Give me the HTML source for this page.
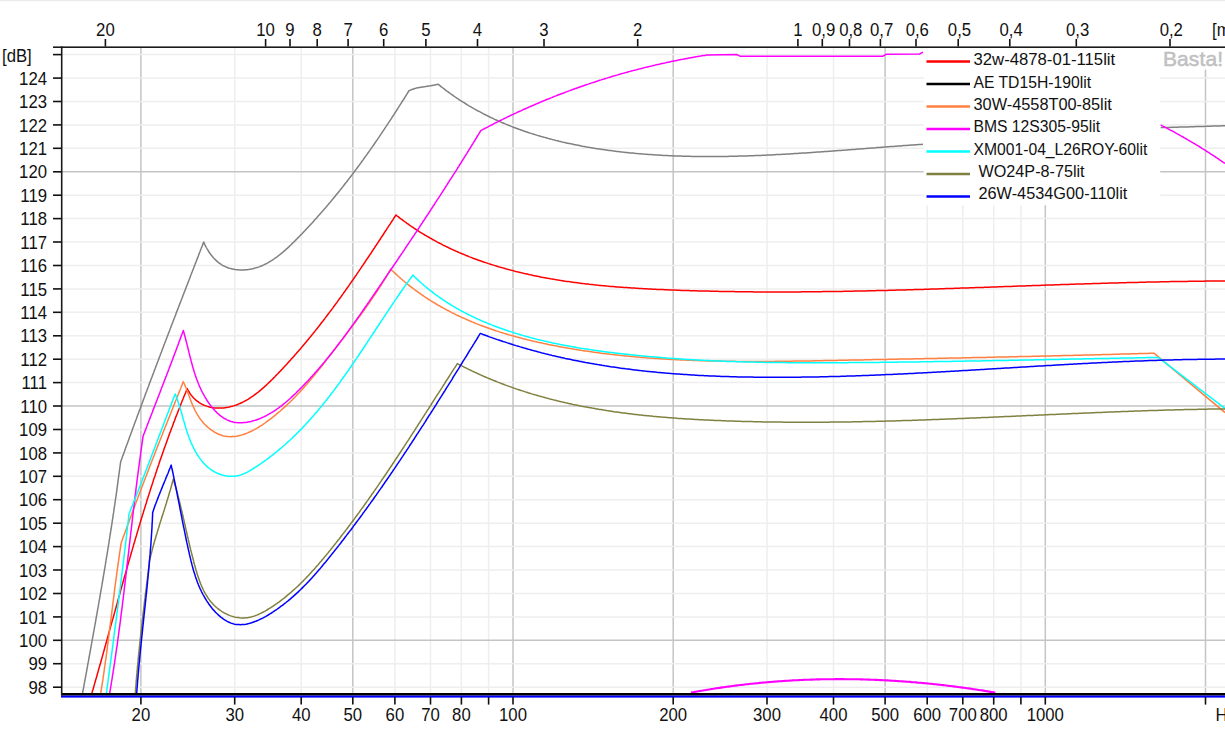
<!DOCTYPE html>
<html><head><meta charset="utf-8"><title>SPL chart</title>
<style>
html,body{margin:0;padding:0;background:#fff;overflow:hidden;}
svg{display:block;}
.ax{font-family:"Liberation Sans",Arial,sans-serif;font-size:18px;fill:#111;}
.lg{font-family:"Liberation Sans",Arial,sans-serif;font-size:16px;fill:#111;}
.basta{font-family:"Liberation Sans",Arial,sans-serif;font-size:21px;font-weight:normal;fill:#c0c0c0;stroke:#c0c0c0;stroke-width:0.5px;}
</style></head>
<body>
<svg width="1225" height="742" viewBox="0 0 1225 742">
<rect x="0" y="0" width="1225" height="742" fill="#fff"/>
<rect x="0" y="0" width="1225" height="1.2" fill="#ebebeb"/>
<line x1="234.7" y1="47.0" x2="234.7" y2="694.0" stroke="#eeeeee" stroke-width="1.5"/>
<line x1="301.2" y1="47.0" x2="301.2" y2="694.0" stroke="#eeeeee" stroke-width="1.5"/>
<line x1="394.9" y1="47.0" x2="394.9" y2="694.0" stroke="#eeeeee" stroke-width="1.5"/>
<line x1="430.5" y1="47.0" x2="430.5" y2="694.0" stroke="#eeeeee" stroke-width="1.5"/>
<line x1="461.4" y1="47.0" x2="461.4" y2="694.0" stroke="#eeeeee" stroke-width="1.5"/>
<line x1="488.6" y1="47.0" x2="488.6" y2="694.0" stroke="#eeeeee" stroke-width="1.5"/>
<line x1="767.0" y1="47.0" x2="767.0" y2="694.0" stroke="#eeeeee" stroke-width="1.5"/>
<line x1="833.5" y1="47.0" x2="833.5" y2="694.0" stroke="#eeeeee" stroke-width="1.5"/>
<line x1="927.2" y1="47.0" x2="927.2" y2="694.0" stroke="#eeeeee" stroke-width="1.5"/>
<line x1="962.8" y1="47.0" x2="962.8" y2="694.0" stroke="#eeeeee" stroke-width="1.5"/>
<line x1="993.7" y1="47.0" x2="993.7" y2="694.0" stroke="#eeeeee" stroke-width="1.5"/>
<line x1="1020.9" y1="47.0" x2="1020.9" y2="694.0" stroke="#eeeeee" stroke-width="1.5"/>
<line x1="140.9" y1="47.0" x2="140.9" y2="694.0" stroke="#c4c4c4" stroke-width="1.5"/>
<line x1="352.8" y1="47.0" x2="352.8" y2="694.0" stroke="#c4c4c4" stroke-width="1.5"/>
<line x1="513.0" y1="47.0" x2="513.0" y2="694.0" stroke="#c4c4c4" stroke-width="1.5"/>
<line x1="673.2" y1="47.0" x2="673.2" y2="694.0" stroke="#c4c4c4" stroke-width="1.5"/>
<line x1="885.1" y1="47.0" x2="885.1" y2="694.0" stroke="#c4c4c4" stroke-width="1.5"/>
<line x1="1045.3" y1="47.0" x2="1045.3" y2="694.0" stroke="#c4c4c4" stroke-width="1.5"/>
<line x1="1205.5" y1="47.0" x2="1205.5" y2="694.0" stroke="#c4c4c4" stroke-width="1.5"/>
<line x1="62.0" y1="687.2" x2="1225.0" y2="687.2" stroke="#eeeeee" stroke-width="1.5"/>
<line x1="62.0" y1="663.7" x2="1225.0" y2="663.7" stroke="#eeeeee" stroke-width="1.5"/>
<line x1="62.0" y1="640.3" x2="1225.0" y2="640.3" stroke="#c4c4c4" stroke-width="1.5"/>
<line x1="62.0" y1="616.9" x2="1225.0" y2="616.9" stroke="#eeeeee" stroke-width="1.5"/>
<line x1="62.0" y1="593.5" x2="1225.0" y2="593.5" stroke="#eeeeee" stroke-width="1.5"/>
<line x1="62.0" y1="570.0" x2="1225.0" y2="570.0" stroke="#eeeeee" stroke-width="1.5"/>
<line x1="62.0" y1="546.6" x2="1225.0" y2="546.6" stroke="#eeeeee" stroke-width="1.5"/>
<line x1="62.0" y1="523.2" x2="1225.0" y2="523.2" stroke="#eeeeee" stroke-width="1.5"/>
<line x1="62.0" y1="499.7" x2="1225.0" y2="499.7" stroke="#eeeeee" stroke-width="1.5"/>
<line x1="62.0" y1="476.3" x2="1225.0" y2="476.3" stroke="#eeeeee" stroke-width="1.5"/>
<line x1="62.0" y1="452.9" x2="1225.0" y2="452.9" stroke="#eeeeee" stroke-width="1.5"/>
<line x1="62.0" y1="429.5" x2="1225.0" y2="429.5" stroke="#eeeeee" stroke-width="1.5"/>
<line x1="62.0" y1="406.0" x2="1225.0" y2="406.0" stroke="#c4c4c4" stroke-width="1.5"/>
<line x1="62.0" y1="382.6" x2="1225.0" y2="382.6" stroke="#eeeeee" stroke-width="1.5"/>
<line x1="62.0" y1="359.2" x2="1225.0" y2="359.2" stroke="#eeeeee" stroke-width="1.5"/>
<line x1="62.0" y1="335.8" x2="1225.0" y2="335.8" stroke="#eeeeee" stroke-width="1.5"/>
<line x1="62.0" y1="312.3" x2="1225.0" y2="312.3" stroke="#eeeeee" stroke-width="1.5"/>
<line x1="62.0" y1="288.9" x2="1225.0" y2="288.9" stroke="#eeeeee" stroke-width="1.5"/>
<line x1="62.0" y1="265.5" x2="1225.0" y2="265.5" stroke="#eeeeee" stroke-width="1.5"/>
<line x1="62.0" y1="242.0" x2="1225.0" y2="242.0" stroke="#eeeeee" stroke-width="1.5"/>
<line x1="62.0" y1="218.6" x2="1225.0" y2="218.6" stroke="#eeeeee" stroke-width="1.5"/>
<line x1="62.0" y1="195.2" x2="1225.0" y2="195.2" stroke="#eeeeee" stroke-width="1.5"/>
<line x1="62.0" y1="171.8" x2="1225.0" y2="171.8" stroke="#c4c4c4" stroke-width="1.5"/>
<line x1="62.0" y1="148.3" x2="1225.0" y2="148.3" stroke="#eeeeee" stroke-width="1.5"/>
<line x1="62.0" y1="124.9" x2="1225.0" y2="124.9" stroke="#eeeeee" stroke-width="1.5"/>
<line x1="62.0" y1="101.5" x2="1225.0" y2="101.5" stroke="#eeeeee" stroke-width="1.5"/>
<line x1="62.0" y1="78.1" x2="1225.0" y2="78.1" stroke="#eeeeee" stroke-width="1.5"/>
<line x1="62.0" y1="54.6" x2="1225.0" y2="54.6" stroke="#eeeeee" stroke-width="1.5"/>
<path d="M82.5,693.5 L82.8,692.0 L83.0,690.5 L83.3,689.1 L83.6,687.6 L83.9,686.1 L84.1,684.6 L84.4,683.1 L84.7,681.7 L84.9,680.2 L85.2,678.7 L85.5,677.2 L85.8,675.7 L86.0,674.3 L86.3,672.8 L86.6,671.3 L86.8,669.8 L87.1,668.3 L87.4,666.9 L87.6,665.4 L87.9,663.9 L88.2,662.4 L88.5,660.9 L88.7,659.5 L89.0,658.0 L89.3,656.5 L89.5,655.0 L89.8,653.6 L90.1,652.1 L90.3,650.6 L90.6,649.1 L90.9,647.6 L91.1,646.1 L91.4,644.7 L91.7,643.2 L91.9,641.7 L92.2,640.2 L92.5,638.7 L92.7,637.3 L93.0,635.8 L93.3,634.3 L93.5,632.8 L93.8,631.3 L94.1,629.9 L94.3,628.4 L94.6,626.9 L94.9,625.4 L95.1,623.9 L95.4,622.5 L95.7,621.0 L95.9,619.5 L96.2,618.0 L96.4,616.5 L96.7,615.1 L97.0,613.6 L97.2,612.1 L97.5,610.6 L97.7,609.1 L98.0,607.6 L98.3,606.2 L98.5,604.7 L98.8,603.2 L99.0,601.7 L99.3,600.2 L99.6,598.8 L99.8,597.3 L100.1,595.8 L100.3,594.3 L100.6,592.8 L100.8,591.3 L101.1,589.9 L101.4,588.4 L101.6,586.9 L101.9,585.4 L102.1,583.9 L102.4,582.5 L102.6,581.0 L102.9,579.5 L103.1,578.0 L103.4,576.5 L103.6,575.0 L103.9,573.6 L104.1,572.1 L104.4,570.6 L104.6,569.1 L104.9,567.6 L105.1,566.1 L105.4,564.7 L105.6,563.2 L105.8,561.7 L106.1,560.2 L106.3,558.7 L106.6,557.2 L106.8,555.7 L107.1,554.3 L107.3,552.8 L107.5,551.3 L107.8,549.8 L108.0,548.3 L108.3,546.8 L108.5,545.4 L108.7,543.9 L109.0,542.4 L109.2,540.9 L109.4,539.4 L109.7,537.9 L109.9,536.4 L110.1,535.0 L110.4,533.5 L110.6,532.0 L110.8,530.5 L111.1,529.0 L111.3,527.5 L111.5,526.0 L111.8,524.6 L112.0,523.1 L112.2,521.6 L112.4,520.1 L112.7,518.6 L112.9,517.1 L113.1,515.6 L113.3,514.1 L113.6,512.7 L113.8,511.2 L114.0,509.7 L114.2,508.2 L114.4,506.7 L114.7,505.2 L114.9,503.7 L115.1,502.2 L115.3,500.7 L115.5,499.3 L115.7,497.8 L116.0,496.3 L116.2,494.8 L116.4,493.3 L116.6,491.8 L116.8,490.3 L117.0,488.8 L117.2,487.3 L117.4,485.9 L117.6,484.4 L117.8,482.9 L118.0,481.4 L118.2,479.9 L118.4,478.4 L118.6,476.9 L118.8,475.4 L119.0,473.9 L119.2,472.4 L119.4,471.0 L119.6,469.5 L119.8,468.0 L120.0,466.5 L120.2,465.0 L120.4,463.5 L120.6,462.0 L121.1,460.6 L121.6,459.2 L122.1,457.8 L122.6,456.3 L123.2,454.9 L123.7,453.5 L124.2,452.1 L124.7,450.7 L125.2,449.3 L125.7,447.8 L126.2,446.4 L126.7,445.0 L127.3,443.6 L127.8,442.2 L128.3,440.8 L128.8,439.4 L129.3,437.9 L129.8,436.5 L130.4,435.1 L130.9,433.7 L131.4,432.3 L131.9,430.9 L132.4,429.5 L132.9,428.0 L133.5,426.6 L134.0,425.2 L134.5,423.8 L135.0,422.4 L135.5,421.0 L136.1,419.6 L136.6,418.2 L137.1,416.7 L137.6,415.3 L138.2,413.9 L138.7,412.5 L139.2,411.1 L139.7,409.7 L140.3,408.3 L140.8,406.9 L141.3,405.4 L141.8,404.0 L142.4,402.6 L142.9,401.2 L143.4,399.8 L143.9,398.4 L144.5,397.0 L145.0,395.6 L145.5,394.1 L146.0,392.7 L146.6,391.3 L147.1,389.9 L147.6,388.5 L148.2,387.1 L148.7,385.7 L149.2,384.3 L149.7,382.8 L150.3,381.4 L150.8,380.0 L151.3,378.6 L151.9,377.2 L152.4,375.8 L152.9,374.4 L153.5,373.0 L154.0,371.6 L154.5,370.1 L155.1,368.7 L155.6,367.3 L156.1,365.9 L156.7,364.5 L157.2,363.1 L157.7,361.7 L158.3,360.3 L158.8,358.9 L159.3,357.4 L159.9,356.0 L160.4,354.6 L160.9,353.2 L161.5,351.8 L162.0,350.4 L162.5,349.0 L163.1,347.6 L163.6,346.2 L164.1,344.8 L164.7,343.3 L165.2,341.9 L165.8,340.5 L166.3,339.1 L166.8,337.7 L167.4,336.3 L167.9,334.9 L168.4,333.5 L169.0,332.1 L169.5,330.7 L170.1,329.2 L170.6,327.8 L171.1,326.4 L171.7,325.0 L172.2,323.6 L172.8,322.2 L173.3,320.8 L173.8,319.4 L174.4,318.0 L174.9,316.6 L175.5,315.2 L176.0,313.7 L176.5,312.3 L177.1,310.9 L177.6,309.5 L178.2,308.1 L178.7,306.7 L179.2,305.3 L179.8,303.9 L180.3,302.5 L180.9,301.1 L181.4,299.7 L182.0,298.3 L182.5,296.9 L183.0,295.4 L183.6,294.0 L184.1,292.6 L184.7,291.2 L185.2,289.8 L185.8,288.4 L186.3,287.0 L186.8,285.6 L187.4,284.2 L187.9,282.8 L188.5,281.4 L189.0,280.0 L189.6,278.6 L190.1,277.2 L190.6,275.7 L191.2,274.3 L191.7,272.9 L192.3,271.5 L192.8,270.1 L193.4,268.7 L193.9,267.3 L194.4,265.9 L195.0,264.5 L195.5,263.1 L196.1,261.7 L196.6,260.3 L197.2,258.9 L197.7,257.5 L198.3,256.1 L198.8,254.6 L199.3,253.2 L199.9,251.8 L200.4,250.4 L201.0,249.0 L201.5,247.6 L202.1,246.2 L202.6,244.8 L203.2,243.4 L203.7,242.0 L204.3,243.4 L204.9,244.8 L205.6,246.2 L206.3,247.5 L207.1,248.9 L207.9,250.2 L208.7,251.5 L209.5,252.8 L210.4,254.1 L211.4,255.3 L212.4,256.5 L213.4,257.7 L214.4,258.8 L215.5,259.9 L216.6,260.9 L217.7,261.9 L218.9,262.9 L220.1,263.7 L221.4,264.6 L222.6,265.3 L224.0,266.0 L225.3,266.6 L226.7,267.2 L228.0,267.7 L229.4,268.2 L230.9,268.6 L232.3,268.9 L233.8,269.2 L235.2,269.5 L236.7,269.7 L238.2,269.8 L239.7,269.9 L241.2,270.0 L242.7,270.0 L244.1,269.9 L245.6,269.8 L247.1,269.7 L248.6,269.5 L250.0,269.3 L251.5,269.0 L252.9,268.7 L254.3,268.3 L255.7,267.9 L257.1,267.5 L258.4,267.1 L259.8,266.6 L261.1,266.0 L262.5,265.5 L263.8,264.9 L265.1,264.2 L266.4,263.6 L267.7,262.9 L268.9,262.2 L270.2,261.4 L271.5,260.7 L272.7,259.9 L273.9,259.0 L275.1,258.2 L276.4,257.3 L277.6,256.4 L278.7,255.5 L279.9,254.6 L281.1,253.7 L282.3,252.7 L283.4,251.7 L284.6,250.7 L285.7,249.7 L286.9,248.7 L288.0,247.6 L289.1,246.6 L290.2,245.5 L291.3,244.5 L292.4,243.4 L293.5,242.3 L294.6,241.2 L295.7,240.1 L296.8,239.0 L297.9,237.9 L299.0,236.8 L300.0,235.7 L301.1,234.6 L302.2,233.5 L303.2,232.4 L304.3,231.3 L305.3,230.2 L306.4,229.1 L307.4,228.0 L308.5,226.8 L309.5,225.7 L310.5,224.6 L311.6,223.5 L312.6,222.4 L313.6,221.2 L314.6,220.1 L315.6,219.0 L316.6,217.9 L317.6,216.7 L318.6,215.6 L319.6,214.5 L320.6,213.3 L321.6,212.2 L322.6,211.1 L323.6,209.9 L324.6,208.8 L325.6,207.7 L326.6,206.5 L327.5,205.4 L328.5,204.2 L329.5,203.1 L330.4,201.9 L331.4,200.8 L332.3,199.6 L333.3,198.5 L334.2,197.3 L335.2,196.2 L336.1,195.0 L337.1,193.8 L338.0,192.7 L339.0,191.5 L339.9,190.4 L340.8,189.2 L341.8,188.0 L342.7,186.9 L343.6,185.7 L344.5,184.5 L345.4,183.3 L346.4,182.2 L347.3,181.0 L348.2,179.8 L349.1,178.6 L350.0,177.5 L350.9,176.3 L351.8,175.1 L352.7,173.9 L353.6,172.7 L354.5,171.5 L355.4,170.3 L356.3,169.1 L357.1,168.0 L358.0,166.8 L358.9,165.6 L359.8,164.4 L360.7,163.2 L361.5,162.0 L362.4,160.8 L363.3,159.6 L364.2,158.3 L365.0,157.1 L365.9,155.9 L366.8,154.7 L367.6,153.5 L368.5,152.3 L369.3,151.1 L370.2,149.9 L371.1,148.6 L371.9,147.4 L372.8,146.2 L373.6,145.0 L374.5,143.7 L375.3,142.5 L376.1,141.3 L377.0,140.1 L377.8,138.8 L378.7,137.6 L379.5,136.3 L380.3,135.1 L381.2,133.9 L382.0,132.6 L382.8,131.4 L383.7,130.1 L384.5,128.9 L385.3,127.6 L386.2,126.4 L387.0,125.1 L387.8,123.9 L388.6,122.6 L389.5,121.4 L390.3,120.1 L391.1,118.9 L391.9,117.6 L392.8,116.3 L393.6,115.1 L394.4,113.8 L395.2,112.5 L396.0,111.3 L396.8,110.0 L397.7,108.7 L398.5,107.4 L399.3,106.2 L400.1,104.9 L400.9,103.6 L401.7,102.3 L402.5,101.0 L403.3,99.8 L404.2,98.5 L405.0,97.2 L405.8,95.9 L406.6,94.6 L407.4,93.3 L408.2,92.0 L409.0,90.7 L410.4,90.1 L411.9,89.5 L413.4,89.0 L414.9,88.5 L416.4,88.1 L418.0,87.8 L419.5,87.5 L421.0,87.2 L422.6,86.9 L424.2,86.7 L425.7,86.5 L427.3,86.2 L428.8,86.0 L430.4,85.8 L432.0,85.5 L433.5,85.2 L435.0,84.9 L436.6,84.6 L438.1,84.2 L439.3,85.2 L440.5,86.1 L441.7,87.1 L442.9,88.0 L444.1,88.9 L445.3,89.9 L446.5,90.8 L447.8,91.7 L449.0,92.6 L450.2,93.5 L451.4,94.4 L452.7,95.2 L453.9,96.1 L455.2,97.0 L456.4,97.8 L457.7,98.7 L458.9,99.5 L460.2,100.3 L461.5,101.1 L462.7,101.9 L464.0,102.7 L465.3,103.5 L466.6,104.3 L467.8,105.1 L469.1,105.9 L470.4,106.6 L471.7,107.4 L473.0,108.1 L474.3,108.9 L475.6,109.6 L476.9,110.3 L478.2,111.0 L479.6,111.7 L480.9,112.4 L482.2,113.1 L483.5,113.8 L484.9,114.5 L486.2,115.2 L487.5,115.8 L488.9,116.5 L490.2,117.2 L491.5,117.8 L492.9,118.4 L494.2,119.1 L495.6,119.7 L496.9,120.3 L498.3,120.9 L499.7,121.5 L501.0,122.1 L502.4,122.7 L503.8,123.3 L505.1,123.9 L506.5,124.4 L507.9,125.0 L509.3,125.5 L510.7,126.1 L512.0,126.6 L513.4,127.2 L514.8,127.7 L516.2,128.2 L517.6,128.7 L519.0,129.3 L520.4,129.8 L521.8,130.3 L523.2,130.8 L524.6,131.2 L526.0,131.7 L527.5,132.2 L528.9,132.7 L530.3,133.1 L531.7,133.6 L533.1,134.0 L534.6,134.5 L536.0,134.9 L537.4,135.4 L538.8,135.8 L540.3,136.2 L541.7,136.6 L543.1,137.0 L544.6,137.4 L546.0,137.8 L547.5,138.2 L548.9,138.6 L550.3,139.0 L551.8,139.4 L553.2,139.8 L554.7,140.1 L556.1,140.5 L557.6,140.8 L559.0,141.2 L560.5,141.5 L562.0,141.9 L563.4,142.2 L564.9,142.6 L566.3,142.9 L567.8,143.2 L569.3,143.5 L570.7,143.8 L572.2,144.1 L573.7,144.4 L575.1,144.7 L576.6,145.0 L578.1,145.3 L579.6,145.6 L581.0,145.9 L582.5,146.2 L584.0,146.4 L585.5,146.7 L586.9,147.0 L588.4,147.2 L589.9,147.5 L591.4,147.7 L592.9,148.0 L594.3,148.2 L595.8,148.5 L597.3,148.7 L598.8,148.9 L600.3,149.1 L601.8,149.4 L603.3,149.6 L604.7,149.8 L606.2,150.0 L607.7,150.2 L609.2,150.4 L610.7,150.6 L612.2,150.8 L613.7,151.0 L615.2,151.2 L616.7,151.4 L618.2,151.5 L619.6,151.7 L621.1,151.9 L622.6,152.1 L624.1,152.2 L625.6,152.4 L627.1,152.5 L628.6,152.7 L630.1,152.9 L631.6,153.0 L633.1,153.1 L634.6,153.3 L636.1,153.4 L637.6,153.6 L639.1,153.7 L640.6,153.8 L642.1,153.9 L643.6,154.1 L645.1,154.2 L646.6,154.3 L648.1,154.4 L649.6,154.5 L651.1,154.6 L652.6,154.7 L654.1,154.8 L655.6,154.9 L657.1,155.0 L658.6,155.1 L660.1,155.2 L661.6,155.3 L663.1,155.4 L664.6,155.4 L666.1,155.5 L667.6,155.6 L669.1,155.7 L670.6,155.7 L672.1,155.8 L673.6,155.9 L675.1,155.9 L676.6,156.0 L678.2,156.0 L679.7,156.1 L681.2,156.1 L682.7,156.2 L684.2,156.2 L685.7,156.2 L687.2,156.3 L688.7,156.3 L690.2,156.3 L691.7,156.4 L693.2,156.4 L694.7,156.4 L696.2,156.4 L697.8,156.5 L699.3,156.5 L700.8,156.5 L702.3,156.5 L703.8,156.5 L705.3,156.5 L706.8,156.5 L708.3,156.5 L709.8,156.5 L711.3,156.5 L712.9,156.5 L714.4,156.5 L715.9,156.5 L717.4,156.5 L718.9,156.5 L720.4,156.5 L721.9,156.5 L723.4,156.4 L724.9,156.4 L726.5,156.4 L728.0,156.4 L729.5,156.3 L731.0,156.3 L732.5,156.3 L734.0,156.3 L735.5,156.2 L737.0,156.2 L738.5,156.1 L740.1,156.1 L741.6,156.1 L743.1,156.0 L744.6,156.0 L746.1,155.9 L747.6,155.9 L749.1,155.8 L750.6,155.8 L752.2,155.7 L753.7,155.7 L755.2,155.6 L756.7,155.5 L758.2,155.5 L759.7,155.4 L761.2,155.4 L762.7,155.3 L764.2,155.2 L765.8,155.2 L767.3,155.1 L768.8,155.0 L770.3,154.9 L771.8,154.9 L773.3,154.8 L774.8,154.7 L776.3,154.6 L777.8,154.6 L779.4,154.5 L780.9,154.4 L782.4,154.3 L783.9,154.2 L785.4,154.2 L786.9,154.1 L788.4,154.0 L789.9,153.9 L791.4,153.8 L792.9,153.7 L794.5,153.6 L796.0,153.5 L797.5,153.4 L799.0,153.3 L800.5,153.2 L802.0,153.1 L803.5,153.1 L805.0,153.0 L806.5,152.9 L808.0,152.8 L809.5,152.7 L811.0,152.6 L812.6,152.5 L814.1,152.3 L815.6,152.2 L817.1,152.1 L818.6,152.0 L820.1,151.9 L821.6,151.8 L823.1,151.7 L824.6,151.6 L826.1,151.5 L827.6,151.4 L829.1,151.3 L830.6,151.2 L832.1,151.1 L833.6,151.0 L835.1,150.8 L836.6,150.7 L838.1,150.6 L839.6,150.5 L841.1,150.4 L842.6,150.3 L844.1,150.2 L845.6,150.1 L847.1,149.9 L848.6,149.8 L850.1,149.7 L851.6,149.6 L853.1,149.5 L854.6,149.4 L856.1,149.2 L857.6,149.1 L859.1,149.0 L860.6,148.9 L862.1,148.8 L863.6,148.7 L865.1,148.6 L866.6,148.4 L868.1,148.3 L869.6,148.2 L871.1,148.1 L872.6,148.0 L874.1,147.9 L875.5,147.8 L877.0,147.6 L878.5,147.5 L880.0,147.4 L881.5,147.3 L883.0,147.2 L884.5,147.1 L886.0,147.0 L887.5,146.8 L888.9,146.7 L890.4,146.6 L891.9,146.5 L893.4,146.4 L894.9,146.3 L896.4,146.2 L897.9,146.1 L899.3,146.0 L900.8,145.9 L902.3,145.7 L903.8,145.6 L905.3,145.5 L906.8,145.4 L908.2,145.3 L909.7,145.2 L911.2,145.1 L912.7,145.0 L914.1,144.9 L915.6,144.8 L917.1,144.7 L918.6,144.6 L920.1,144.5 L921.5,144.4 L923.0,144.3" fill="none" stroke="#808080" stroke-width="1.5" stroke-linejoin="round" stroke-linecap="butt"/>
<path d="M1160.6,127.6 L1162.1,127.6 L1163.7,127.5 L1165.2,127.5 L1166.7,127.4 L1168.3,127.4 L1169.8,127.4 L1171.3,127.3 L1172.9,127.3 L1174.4,127.2 L1175.9,127.2 L1177.5,127.2 L1179.0,127.1 L1180.5,127.1 L1182.1,127.0 L1183.6,127.0 L1185.1,126.9 L1186.7,126.9 L1188.2,126.9 L1189.7,126.8 L1191.3,126.8 L1192.8,126.7 L1194.3,126.7 L1195.9,126.6 L1197.4,126.6 L1198.9,126.5 L1200.5,126.5 L1202.0,126.4 L1203.5,126.4 L1205.1,126.3 L1206.6,126.3 L1208.1,126.3 L1209.7,126.2 L1211.2,126.2 L1212.7,126.1 L1214.3,126.1 L1215.8,126.0 L1217.3,126.0 L1218.9,125.9 L1220.4,125.9 L1221.9,125.8 L1223.5,125.8 L1225.0,125.7" fill="none" stroke="#808080" stroke-width="1.5" stroke-linejoin="round" stroke-linecap="butt"/>
<path d="M91.8,693.5 L92.2,692.1 L92.6,690.6 L93.1,689.2 L93.5,687.7 L93.9,686.3 L94.3,684.9 L94.7,683.4 L95.1,682.0 L95.5,680.5 L96.0,679.1 L96.4,677.6 L96.8,676.2 L97.2,674.8 L97.6,673.3 L98.0,671.9 L98.4,670.4 L98.8,669.0 L99.2,667.5 L99.6,666.1 L100.1,664.6 L100.5,663.2 L100.9,661.8 L101.3,660.3 L101.7,658.9 L102.1,657.4 L102.5,656.0 L102.9,654.5 L103.3,653.1 L103.7,651.6 L104.1,650.2 L104.5,648.7 L104.9,647.3 L105.3,645.9 L105.7,644.4 L106.1,643.0 L106.5,641.5 L106.9,640.1 L107.3,638.6 L107.7,637.2 L108.1,635.7 L108.5,634.3 L108.9,632.8 L109.3,631.4 L109.7,629.9 L110.1,628.5 L110.5,627.0 L110.9,625.6 L111.3,624.1 L111.7,622.7 L112.1,621.2 L112.5,619.8 L113.0,618.4 L113.4,616.9 L113.8,615.5 L114.2,614.0 L114.6,612.6 L115.0,611.1 L115.4,609.7 L115.8,608.2 L116.2,606.8 L116.6,605.3 L117.0,603.9 L117.4,602.4 L117.8,601.0 L118.2,599.5 L118.6,598.1 L119.0,596.6 L119.4,595.2 L119.8,593.7 L120.2,592.3 L120.6,590.9 L121.0,589.4 L121.4,588.0 L121.8,586.5 L122.2,585.1 L122.6,583.6 L123.0,582.2 L123.4,580.7 L123.8,579.3 L124.2,577.8 L124.6,576.4 L125.0,574.9 L125.5,573.5 L125.9,572.0 L126.3,570.6 L126.7,569.2 L127.1,567.7 L127.5,566.3 L127.9,564.8 L128.3,563.4 L128.7,561.9 L129.1,560.5 L129.6,559.0 L130.0,557.6 L130.4,556.2 L130.8,554.7 L131.2,553.3 L131.6,551.8 L132.1,550.4 L132.5,548.9 L132.9,547.5 L133.3,546.1 L133.7,544.6 L134.1,543.2 L134.6,541.7 L135.0,540.3 L135.4,538.9 L135.8,537.4 L136.3,536.0 L136.7,534.5 L137.1,533.1 L137.5,531.7 L138.0,530.2 L138.4,528.8 L138.8,527.3 L139.2,525.9 L139.7,524.5 L140.1,523.0 L140.5,521.6 L141.0,520.1 L141.4,518.7 L141.8,517.3 L142.3,515.8 L142.7,514.4 L143.2,513.0 L143.6,511.5 L144.0,510.1 L144.5,508.7 L144.9,507.2 L145.4,505.8 L145.8,504.4 L146.3,502.9 L146.7,501.5 L147.1,500.1 L147.6,498.6 L148.0,497.2 L148.5,495.8 L149.0,494.3 L149.4,492.9 L149.9,491.5 L150.3,490.1 L150.8,488.6 L151.2,487.2 L151.7,485.8 L152.2,484.3 L152.6,482.9 L153.1,481.5 L153.5,480.1 L154.0,478.6 L154.5,477.2 L155.0,475.8 L155.4,474.4 L155.9,472.9 L156.4,471.5 L156.8,470.1 L157.3,468.7 L157.8,467.2 L158.3,465.8 L158.8,464.4 L159.2,463.0 L159.7,461.6 L160.2,460.1 L160.7,458.7 L161.2,457.3 L161.7,455.9 L162.2,454.5 L162.7,453.1 L163.2,451.6 L163.7,450.2 L164.1,448.8 L164.6,447.4 L165.2,446.0 L165.7,444.6 L166.2,443.2 L166.7,441.7 L167.2,440.3 L167.7,438.9 L168.2,437.5 L168.7,436.1 L169.2,434.7 L169.7,433.3 L170.3,431.9 L170.8,430.5 L171.3,429.1 L171.8,427.7 L172.4,426.3 L172.9,424.9 L173.4,423.5 L173.9,422.1 L174.5,420.7 L175.0,419.2 L175.5,417.8 L176.1,416.4 L176.6,415.0 L177.2,413.7 L177.7,412.3 L178.3,410.9 L178.8,409.5 L179.4,408.1 L179.9,406.7 L180.5,405.3 L181.0,403.9 L181.6,402.5 L182.1,401.1 L182.7,399.7 L183.3,398.3 L183.8,396.9 L184.4,395.5 L185.0,394.1 L185.6,392.8 L186.1,391.4 L186.7,390.0 L187.3,388.6 L188.0,390.1 L188.8,391.5 L189.6,392.8 L190.5,394.2 L191.4,395.4 L192.4,396.6 L193.4,397.8 L194.5,398.8 L195.6,399.9 L196.8,400.8 L198.0,401.7 L199.2,402.6 L200.5,403.4 L201.8,404.1 L203.1,404.8 L204.5,405.4 L205.9,405.9 L207.3,406.4 L208.7,406.8 L210.2,407.2 L211.6,407.5 L213.1,407.7 L214.6,407.9 L216.1,408.0 L217.6,408.1 L219.1,408.1 L220.5,408.1 L222.0,408.0 L223.5,407.9 L225.0,407.7 L226.4,407.5 L227.9,407.3 L229.3,407.0 L230.7,406.6 L232.1,406.3 L233.5,405.9 L234.9,405.4 L236.3,405.0 L237.6,404.5 L238.9,403.9 L240.3,403.3 L241.6,402.7 L242.9,402.1 L244.2,401.4 L245.5,400.8 L246.7,400.0 L248.0,399.3 L249.2,398.5 L250.5,397.7 L251.7,396.9 L252.9,396.1 L254.1,395.2 L255.3,394.3 L256.5,393.4 L257.7,392.5 L258.9,391.6 L260.0,390.6 L261.2,389.6 L262.3,388.6 L263.5,387.6 L264.6,386.6 L265.8,385.6 L266.9,384.5 L268.0,383.5 L269.1,382.4 L270.2,381.4 L271.3,380.3 L272.4,379.2 L273.5,378.1 L274.6,377.0 L275.6,375.9 L276.7,374.8 L277.8,373.7 L278.8,372.6 L279.9,371.5 L281.0,370.4 L282.0,369.2 L283.1,368.1 L284.1,367.0 L285.1,365.9 L286.2,364.8 L287.2,363.7 L288.2,362.5 L289.3,361.4 L290.3,360.3 L291.3,359.1 L292.3,358.0 L293.3,356.9 L294.3,355.7 L295.3,354.6 L296.3,353.5 L297.3,352.3 L298.3,351.2 L299.3,350.0 L300.3,348.9 L301.3,347.8 L302.2,346.6 L303.2,345.5 L304.2,344.3 L305.1,343.2 L306.1,342.0 L307.1,340.8 L308.0,339.7 L309.0,338.5 L309.9,337.4 L310.9,336.2 L311.8,335.0 L312.8,333.9 L313.7,332.7 L314.7,331.5 L315.6,330.4 L316.5,329.2 L317.5,328.0 L318.4,326.8 L319.3,325.7 L320.2,324.5 L321.1,323.3 L322.1,322.1 L323.0,321.0 L323.9,319.8 L324.8,318.6 L325.7,317.4 L326.6,316.2 L327.5,315.0 L328.4,313.8 L329.3,312.6 L330.2,311.4 L331.1,310.3 L332.0,309.1 L332.9,307.9 L333.7,306.7 L334.6,305.5 L335.5,304.3 L336.4,303.1 L337.3,301.9 L338.1,300.7 L339.0,299.4 L339.9,298.2 L340.8,297.0 L341.6,295.8 L342.5,294.6 L343.4,293.4 L344.2,292.2 L345.1,291.0 L345.9,289.8 L346.8,288.5 L347.7,287.3 L348.5,286.1 L349.4,284.9 L350.2,283.7 L351.1,282.4 L351.9,281.2 L352.8,280.0 L353.6,278.8 L354.5,277.5 L355.3,276.3 L356.2,275.1 L357.0,273.8 L357.8,272.6 L358.7,271.4 L359.5,270.1 L360.4,268.9 L361.2,267.7 L362.0,266.4 L362.9,265.2 L363.7,264.0 L364.5,262.7 L365.4,261.5 L366.2,260.2 L367.0,259.0 L367.9,257.8 L368.7,256.5 L369.5,255.3 L370.4,254.0 L371.2,252.8 L372.0,251.5 L372.8,250.3 L373.7,249.0 L374.5,247.8 L375.3,246.5 L376.1,245.3 L377.0,244.0 L377.8,242.8 L378.6,241.5 L379.5,240.3 L380.3,239.0 L381.1,237.7 L381.9,236.5 L382.8,235.2 L383.6,234.0 L384.4,232.7 L385.2,231.5 L386.1,230.2 L386.9,228.9 L387.7,227.7 L388.5,226.4 L389.4,225.1 L390.2,223.9 L391.0,222.6 L391.9,221.3 L392.7,220.1 L393.5,218.8 L394.3,217.5 L395.2,216.3 L396.0,215.0 L397.2,216.0 L398.4,216.9 L399.6,217.9 L400.9,218.8 L402.1,219.7 L403.3,220.6 L404.5,221.5 L405.8,222.4 L407.0,223.3 L408.3,224.2 L409.5,225.1 L410.8,226.0 L412.0,226.8 L413.3,227.7 L414.5,228.5 L415.8,229.3 L417.1,230.2 L418.4,231.0 L419.6,231.8 L420.9,232.6 L422.2,233.4 L423.5,234.2 L424.8,235.0 L426.1,235.7 L427.4,236.5 L428.7,237.2 L430.0,238.0 L431.3,238.7 L432.6,239.5 L433.9,240.2 L435.2,240.9 L436.5,241.6 L437.8,242.3 L439.2,243.0 L440.5,243.7 L441.8,244.4 L443.1,245.1 L444.5,245.7 L445.8,246.4 L447.1,247.0 L448.5,247.7 L449.8,248.3 L451.2,249.0 L452.5,249.6 L453.9,250.2 L455.2,250.8 L456.6,251.4 L458.0,252.0 L459.3,252.6 L460.7,253.2 L462.1,253.8 L463.4,254.3 L464.8,254.9 L466.2,255.5 L467.6,256.0 L468.9,256.6 L470.3,257.1 L471.7,257.6 L473.1,258.2 L474.5,258.7 L475.9,259.2 L477.3,259.7 L478.7,260.2 L480.1,260.7 L481.5,261.2 L482.9,261.7 L484.3,262.2 L485.7,262.6 L487.1,263.1 L488.5,263.6 L489.9,264.0 L491.3,264.5 L492.7,264.9 L494.2,265.4 L495.6,265.8 L497.0,266.2 L498.4,266.7 L499.9,267.1 L501.3,267.5 L502.7,267.9 L504.1,268.3 L505.6,268.7 L507.0,269.1 L508.4,269.5 L509.9,269.9 L511.3,270.3 L512.7,270.6 L514.2,271.0 L515.6,271.4 L517.1,271.7 L518.5,272.1 L520.0,272.4 L521.4,272.8 L522.9,273.1 L524.3,273.5 L525.8,273.8 L527.2,274.1 L528.7,274.4 L530.1,274.8 L531.6,275.1 L533.0,275.4 L534.5,275.7 L536.0,276.0 L537.4,276.3 L538.9,276.6 L540.4,276.9 L541.8,277.2 L543.3,277.4 L544.8,277.7 L546.2,278.0 L547.7,278.3 L549.2,278.5 L550.6,278.8 L552.1,279.0 L553.6,279.3 L555.1,279.5 L556.5,279.8 L558.0,280.0 L559.5,280.3 L561.0,280.5 L562.5,280.7 L563.9,280.9 L565.4,281.2 L566.9,281.4 L568.4,281.6 L569.9,281.8 L571.4,282.0 L572.9,282.2 L574.3,282.4 L575.8,282.6 L577.3,282.8 L578.8,283.0 L580.3,283.2 L581.8,283.4 L583.3,283.6 L584.8,283.7 L586.3,283.9 L587.8,284.1 L589.3,284.3 L590.8,284.4 L592.3,284.6 L593.8,284.8 L595.3,284.9 L596.8,285.1 L598.3,285.2 L599.8,285.4 L601.3,285.5 L602.8,285.7 L604.3,285.8 L605.8,285.9 L607.3,286.1 L608.8,286.2 L610.3,286.4 L611.8,286.5 L613.3,286.6 L614.8,286.7 L616.3,286.9 L617.8,287.0 L619.3,287.1 L620.8,287.2 L622.4,287.3 L623.9,287.4 L625.4,287.5 L626.9,287.6 L628.4,287.7 L629.9,287.8 L631.4,287.9 L632.9,288.0 L634.4,288.1 L635.9,288.2 L637.5,288.3 L639.0,288.4 L640.5,288.5 L642.0,288.6 L643.5,288.7 L645.0,288.8 L646.5,288.8 L648.0,288.9 L649.6,289.0 L651.1,289.1 L652.6,289.2 L654.1,289.2 L655.6,289.3 L657.1,289.4 L658.6,289.4 L660.1,289.5 L661.7,289.6 L663.2,289.6 L664.7,289.7 L666.2,289.8 L667.7,289.8 L669.2,289.9 L670.7,290.0 L672.2,290.0 L673.8,290.1 L675.3,290.1 L676.8,290.2 L678.3,290.2 L679.8,290.3 L681.3,290.4 L682.8,290.4 L684.3,290.5 L685.9,290.5 L687.4,290.6 L688.9,290.6 L690.4,290.7 L691.9,290.7 L693.4,290.7 L694.9,290.8 L696.4,290.8 L697.9,290.9 L699.4,290.9 L701.0,291.0 L702.5,291.0 L704.0,291.0 L705.5,291.1 L707.0,291.1 L708.5,291.1 L710.0,291.2 L711.5,291.2 L713.0,291.3 L714.5,291.3 L716.0,291.3 L717.6,291.3 L719.1,291.4 L720.6,291.4 L722.1,291.4 L723.6,291.5 L725.1,291.5 L726.6,291.5 L728.1,291.5 L729.6,291.6 L731.1,291.6 L732.6,291.6 L734.1,291.6 L735.6,291.7 L737.1,291.7 L738.7,291.7 L740.2,291.7 L741.7,291.7 L743.2,291.8 L744.7,291.8 L746.2,291.8 L747.7,291.8 L749.2,291.8 L750.7,291.8 L752.2,291.8 L753.7,291.9 L755.2,291.9 L756.7,291.9 L758.2,291.9 L759.7,291.9 L761.2,291.9 L762.7,291.9 L764.2,291.9 L765.7,291.9 L767.3,291.9 L768.8,291.9 L770.3,291.9 L771.8,291.9 L773.3,291.9 L774.8,291.9 L776.3,291.9 L777.8,291.9 L779.3,291.9 L780.8,291.9 L782.3,291.9 L783.8,291.9 L785.3,291.9 L786.8,291.9 L788.3,291.9 L789.8,291.9 L791.3,291.9 L792.8,291.9 L794.3,291.9 L795.8,291.9 L797.3,291.9 L798.8,291.9 L800.3,291.9 L801.8,291.8 L803.3,291.8 L804.8,291.8 L806.3,291.8 L807.8,291.8 L809.3,291.8 L810.8,291.8 L812.3,291.8 L813.8,291.7 L815.3,291.7 L816.8,291.7 L818.3,291.7 L819.8,291.7 L821.3,291.7 L822.9,291.6 L824.4,291.6 L825.9,291.6 L827.4,291.6 L828.9,291.6 L830.4,291.5 L831.9,291.5 L833.4,291.5 L834.9,291.5 L836.4,291.5 L837.9,291.4 L839.4,291.4 L840.9,291.4 L842.4,291.4 L843.9,291.3 L845.4,291.3 L846.9,291.3 L848.4,291.2 L849.9,291.2 L851.4,291.2 L852.9,291.2 L854.4,291.1 L855.9,291.1 L857.4,291.1 L858.9,291.0 L860.4,291.0 L861.9,291.0 L863.4,290.9 L864.9,290.9 L866.4,290.9 L867.9,290.8 L869.4,290.8 L870.9,290.8 L872.4,290.7 L873.9,290.7 L875.3,290.7 L876.8,290.6 L878.3,290.6 L879.8,290.6 L881.3,290.5 L882.8,290.5 L884.3,290.5 L885.8,290.4 L887.3,290.4 L888.8,290.3 L890.3,290.3 L891.8,290.3 L893.3,290.2 L894.8,290.2 L896.3,290.1 L897.8,290.1 L899.3,290.1 L900.8,290.0 L902.3,290.0 L903.8,289.9 L905.3,289.9 L906.8,289.8 L908.3,289.8 L909.8,289.8 L911.3,289.7 L912.8,289.7 L914.3,289.6 L915.8,289.6 L917.3,289.5 L918.8,289.5 L920.3,289.5 L921.8,289.4 L923.3,289.4 L924.8,289.3 L926.3,289.3 L927.8,289.2 L929.3,289.2 L930.8,289.1 L932.3,289.1 L933.8,289.0 L935.3,289.0 L936.8,288.9 L938.3,288.9 L939.8,288.8 L941.3,288.8 L942.8,288.7 L944.3,288.7 L945.8,288.6 L947.3,288.6 L948.8,288.5 L950.3,288.5 L951.8,288.4 L953.3,288.4 L954.8,288.3 L956.2,288.3 L957.7,288.2 L959.2,288.2 L960.7,288.1 L962.2,288.1 L963.7,288.0 L965.2,288.0 L966.7,287.9 L968.2,287.9 L969.7,287.8 L971.2,287.8 L972.7,287.7 L974.2,287.7 L975.7,287.6 L977.2,287.6 L978.7,287.5 L980.2,287.5 L981.7,287.4 L983.2,287.4 L984.7,287.3 L986.2,287.3 L987.7,287.2 L989.2,287.2 L990.7,287.1 L992.2,287.1 L993.7,287.0 L995.2,286.9 L996.7,286.9 L998.2,286.8 L999.7,286.8 L1001.2,286.7 L1002.7,286.7 L1004.2,286.6 L1005.7,286.6 L1007.2,286.5 L1008.7,286.5 L1010.2,286.4 L1011.7,286.4 L1013.2,286.3 L1014.7,286.3 L1016.2,286.2 L1017.7,286.1 L1019.2,286.1 L1020.7,286.0 L1022.2,286.0 L1023.7,285.9 L1025.1,285.9 L1026.6,285.8 L1028.1,285.8 L1029.6,285.7 L1031.1,285.7 L1032.6,285.6 L1034.1,285.6 L1035.6,285.5 L1037.1,285.5 L1038.6,285.4 L1040.1,285.4 L1041.6,285.3 L1043.1,285.3 L1044.6,285.2 L1046.1,285.1 L1047.6,285.1 L1049.1,285.0 L1050.6,285.0 L1052.1,284.9 L1053.6,284.9 L1055.1,284.8 L1056.6,284.8 L1058.1,284.7 L1059.6,284.7 L1061.1,284.6 L1062.6,284.6 L1064.1,284.5 L1065.6,284.5 L1067.1,284.4 L1068.6,284.4 L1070.1,284.3 L1071.6,284.3 L1073.1,284.2 L1074.6,284.2 L1076.1,284.1 L1077.6,284.1 L1079.1,284.0 L1080.6,284.0 L1082.1,283.9 L1083.6,283.9 L1085.1,283.8 L1086.6,283.8 L1088.1,283.8 L1089.6,283.7 L1091.1,283.7 L1092.6,283.6 L1094.1,283.6 L1095.6,283.5 L1097.1,283.5 L1098.6,283.4 L1100.1,283.4 L1101.6,283.3 L1103.1,283.3 L1104.6,283.3 L1106.1,283.2 L1107.6,283.2 L1109.1,283.1 L1110.6,283.1 L1112.1,283.0 L1113.6,283.0 L1115.1,282.9 L1116.6,282.9 L1118.1,282.9 L1119.6,282.8 L1121.1,282.8 L1122.6,282.7 L1124.1,282.7 L1125.6,282.7 L1127.1,282.6 L1128.6,282.6 L1130.1,282.5 L1131.7,282.5 L1133.2,282.5 L1134.7,282.4 L1136.2,282.4 L1137.7,282.4 L1139.2,282.3 L1140.7,282.3 L1142.2,282.2 L1143.7,282.2 L1145.2,282.2 L1146.7,282.1 L1148.2,282.1 L1149.7,282.1 L1151.2,282.0 L1152.7,282.0 L1154.2,282.0 L1155.7,281.9 L1157.2,281.9 L1158.7,281.9 L1160.2,281.8 L1161.7,281.8 L1163.2,281.8 L1164.7,281.8 L1166.2,281.7 L1167.7,281.7 L1169.2,281.7 L1170.7,281.6 L1172.3,281.6 L1173.8,281.6 L1175.3,281.6 L1176.8,281.5 L1178.3,281.5 L1179.8,281.5 L1181.3,281.5 L1182.8,281.4 L1184.3,281.4 L1185.8,281.4 L1187.3,281.4 L1188.8,281.3 L1190.3,281.3 L1191.8,281.3 L1193.3,281.3 L1194.8,281.3 L1196.3,281.2 L1197.9,281.2 L1199.4,281.2 L1200.9,281.2 L1202.4,281.2 L1203.9,281.2 L1205.4,281.1 L1206.9,281.1 L1208.4,281.1 L1209.9,281.1 L1211.4,281.1 L1212.9,281.1 L1214.4,281.1 L1215.9,281.1 L1217.5,281.0 L1219.0,281.0 L1220.5,281.0 L1222.0,281.0 L1223.5,281.0 L1225.0,281.0" fill="none" stroke="#ff0000" stroke-width="1.5" stroke-linejoin="round" stroke-linecap="butt"/>
<path d="M100.7,693.5 L100.9,692.0 L101.2,690.5 L101.4,689.0 L101.6,687.6 L101.9,686.1 L102.1,684.6 L102.3,683.1 L102.6,681.6 L102.8,680.1 L103.0,678.6 L103.2,677.2 L103.4,675.7 L103.7,674.2 L103.9,672.7 L104.1,671.2 L104.3,669.7 L104.5,668.2 L104.7,666.7 L104.9,665.3 L105.1,663.8 L105.3,662.3 L105.5,660.8 L105.8,659.3 L106.0,657.8 L106.2,656.3 L106.4,654.8 L106.6,653.3 L106.8,651.8 L107.0,650.4 L107.2,648.9 L107.3,647.4 L107.5,645.9 L107.7,644.4 L107.9,642.9 L108.1,641.4 L108.3,639.9 L108.5,638.4 L108.7,636.9 L108.9,635.4 L109.1,633.9 L109.3,632.5 L109.5,631.0 L109.6,629.5 L109.8,628.0 L110.0,626.5 L110.2,625.0 L110.4,623.5 L110.6,622.0 L110.8,620.5 L111.0,619.0 L111.1,617.5 L111.3,616.0 L111.5,614.5 L111.7,613.1 L111.9,611.6 L112.1,610.1 L112.3,608.6 L112.5,607.1 L112.6,605.6 L112.8,604.1 L113.0,602.6 L113.2,601.1 L113.4,599.6 L113.6,598.1 L113.8,596.6 L114.0,595.1 L114.2,593.7 L114.3,592.2 L114.5,590.7 L114.7,589.2 L114.9,587.7 L115.1,586.2 L115.3,584.7 L115.5,583.2 L115.7,581.7 L115.9,580.2 L116.1,578.7 L116.3,577.2 L116.5,575.8 L116.7,574.3 L116.9,572.8 L117.1,571.3 L117.3,569.8 L117.5,568.3 L117.7,566.8 L117.9,565.3 L118.1,563.8 L118.3,562.3 L118.6,560.9 L118.8,559.4 L119.0,557.9 L119.2,556.4 L119.4,554.9 L119.6,553.4 L119.8,551.9 L120.1,550.4 L120.3,548.9 L120.5,547.5 L120.7,546.0 L121.0,544.5 L121.2,543.0 L121.7,541.6 L122.2,540.2 L122.7,538.8 L123.2,537.3 L123.7,535.9 L124.2,534.5 L124.8,533.1 L125.3,531.7 L125.8,530.3 L126.3,528.9 L126.8,527.4 L127.3,526.0 L127.8,524.6 L128.4,523.2 L128.9,521.8 L129.4,520.4 L129.9,519.0 L130.4,517.6 L131.0,516.1 L131.5,514.7 L132.0,513.3 L132.5,511.9 L133.0,510.5 L133.6,509.1 L134.1,507.7 L134.6,506.3 L135.1,504.9 L135.7,503.5 L136.2,502.1 L136.7,500.6 L137.3,499.2 L137.8,497.8 L138.3,496.4 L138.9,495.0 L139.4,493.6 L139.9,492.2 L140.5,490.8 L141.0,489.4 L141.5,488.0 L142.1,486.6 L142.6,485.2 L143.1,483.8 L143.7,482.4 L144.2,481.0 L144.7,479.6 L145.3,478.2 L145.8,476.8 L146.4,475.3 L146.9,473.9 L147.4,472.5 L148.0,471.1 L148.5,469.7 L149.1,468.3 L149.6,466.9 L150.1,465.5 L150.7,464.1 L151.2,462.7 L151.8,461.3 L152.3,459.9 L152.9,458.5 L153.4,457.1 L154.0,455.7 L154.5,454.3 L155.0,452.9 L155.6,451.5 L156.1,450.1 L156.7,448.7 L157.2,447.3 L157.8,445.9 L158.3,444.5 L158.9,443.1 L159.4,441.7 L160.0,440.3 L160.5,438.9 L161.1,437.5 L161.6,436.1 L162.2,434.7 L162.7,433.3 L163.3,431.9 L163.8,430.5 L164.4,429.1 L164.9,427.7 L165.5,426.3 L166.1,424.9 L166.6,423.6 L167.2,422.2 L167.7,420.8 L168.3,419.4 L168.8,418.0 L169.4,416.6 L169.9,415.2 L170.5,413.8 L171.0,412.4 L171.6,411.0 L172.2,409.6 L172.7,408.2 L173.3,406.8 L173.8,405.4 L174.4,404.0 L174.9,402.6 L175.5,401.2 L176.1,399.8 L176.6,398.4 L177.2,397.0 L177.7,395.6 L178.3,394.2 L178.8,392.9 L179.4,391.5 L180.0,390.1 L180.5,388.7 L181.1,387.3 L181.6,385.9 L182.2,384.5 L182.7,383.1 L183.3,381.7 L183.9,383.0 L184.5,384.3 L185.1,385.6 L185.6,387.0 L186.2,388.3 L186.7,389.7 L187.3,391.1 L187.8,392.5 L188.3,393.9 L188.8,395.3 L189.4,396.7 L189.9,398.2 L190.4,399.6 L191.0,401.0 L191.5,402.4 L192.1,403.9 L192.7,405.3 L193.3,406.7 L194.0,408.1 L194.6,409.5 L195.3,410.9 L196.0,412.2 L196.8,413.6 L197.6,414.9 L198.4,416.2 L199.2,417.5 L200.1,418.8 L201.1,420.1 L202.1,421.3 L203.1,422.5 L204.1,423.7 L205.2,424.8 L206.3,425.9 L207.5,426.9 L208.7,428.0 L209.9,428.9 L211.1,429.8 L212.3,430.7 L213.6,431.5 L214.9,432.3 L216.2,433.0 L217.5,433.7 L218.8,434.3 L220.2,434.8 L221.5,435.3 L222.8,435.7 L224.2,436.0 L225.6,436.2 L226.9,436.4 L228.3,436.6 L229.6,436.7 L231.0,436.7 L232.4,436.6 L233.8,436.5 L235.2,436.4 L236.5,436.2 L237.9,435.9 L239.3,435.6 L240.7,435.3 L242.1,434.9 L243.4,434.5 L244.8,434.0 L246.2,433.5 L247.6,432.9 L248.9,432.3 L250.3,431.7 L251.7,431.0 L253.0,430.3 L254.4,429.6 L255.7,428.9 L257.1,428.1 L258.4,427.3 L259.7,426.5 L261.0,425.6 L262.4,424.8 L263.7,423.9 L265.0,423.0 L266.2,422.1 L267.5,421.1 L268.8,420.2 L270.0,419.3 L271.3,418.3 L272.5,417.3 L273.7,416.4 L275.0,415.4 L276.2,414.4 L277.3,413.4 L278.5,412.4 L279.7,411.5 L280.8,410.5 L282.0,409.4 L283.1,408.4 L284.3,407.4 L285.4,406.4 L286.5,405.4 L287.6,404.3 L288.7,403.3 L289.8,402.3 L290.8,401.2 L291.9,400.2 L293.0,399.1 L294.0,398.0 L295.1,397.0 L296.1,395.9 L297.1,394.8 L298.1,393.8 L299.2,392.7 L300.2,391.6 L301.2,390.5 L302.2,389.4 L303.2,388.3 L304.1,387.2 L305.1,386.1 L306.1,385.0 L307.1,383.9 L308.0,382.8 L309.0,381.6 L309.9,380.5 L310.9,379.4 L311.8,378.3 L312.8,377.1 L313.7,376.0 L314.6,374.9 L315.6,373.7 L316.5,372.6 L317.4,371.4 L318.3,370.3 L319.3,369.1 L320.2,368.0 L321.1,366.8 L322.0,365.7 L322.9,364.5 L323.8,363.3 L324.7,362.2 L325.6,361.0 L326.5,359.8 L327.5,358.6 L328.4,357.5 L329.3,356.3 L330.2,355.1 L331.1,353.9 L332.0,352.8 L332.9,351.6 L333.8,350.4 L334.7,349.2 L335.6,348.0 L336.5,346.8 L337.4,345.6 L338.4,344.5 L339.3,343.3 L340.2,342.1 L341.1,340.9 L342.0,339.7 L342.9,338.5 L343.8,337.3 L344.8,336.1 L345.7,334.9 L346.6,333.7 L347.5,332.5 L348.4,331.3 L349.3,330.1 L350.2,328.9 L351.2,327.6 L352.1,326.4 L353.0,325.2 L353.9,324.0 L354.8,322.8 L355.7,321.6 L356.6,320.4 L357.5,319.1 L358.4,317.9 L359.3,316.7 L360.2,315.5 L361.1,314.3 L362.0,313.0 L362.9,311.8 L363.8,310.6 L364.6,309.3 L365.5,308.1 L366.4,306.9 L367.3,305.6 L368.1,304.4 L369.0,303.2 L369.9,301.9 L370.7,300.7 L371.6,299.4 L372.4,298.2 L373.3,296.9 L374.1,295.7 L375.0,294.4 L375.8,293.2 L376.6,291.9 L377.5,290.7 L378.3,289.4 L379.1,288.2 L379.9,286.9 L380.7,285.7 L381.5,284.4 L382.3,283.1 L383.1,281.9 L383.9,280.6 L384.7,279.3 L385.5,278.0 L386.2,276.8 L387.0,275.5 L387.7,274.2 L388.5,272.9 L389.2,271.7 L390.0,270.4 L390.7,269.1 L391.8,270.2 L392.9,271.3 L394.0,272.3 L395.2,273.4 L396.3,274.4 L397.4,275.5 L398.5,276.5 L399.7,277.5 L400.8,278.5 L402.0,279.5 L403.1,280.5 L404.3,281.5 L405.5,282.5 L406.6,283.4 L407.8,284.4 L409.0,285.3 L410.2,286.3 L411.4,287.2 L412.6,288.1 L413.8,289.0 L415.0,289.9 L416.2,290.8 L417.4,291.7 L418.6,292.6 L419.9,293.4 L421.1,294.3 L422.3,295.2 L423.6,296.0 L424.8,296.8 L426.0,297.7 L427.3,298.5 L428.6,299.3 L429.8,300.1 L431.1,300.9 L432.3,301.7 L433.6,302.5 L434.9,303.2 L436.2,304.0 L437.5,304.8 L438.7,305.5 L440.0,306.2 L441.3,307.0 L442.6,307.7 L443.9,308.4 L445.2,309.1 L446.5,309.8 L447.9,310.5 L449.2,311.2 L450.5,311.9 L451.8,312.6 L453.1,313.2 L454.5,313.9 L455.8,314.6 L457.2,315.2 L458.5,315.8 L459.8,316.5 L461.2,317.1 L462.5,317.7 L463.9,318.3 L465.2,318.9 L466.6,319.5 L468.0,320.1 L469.3,320.7 L470.7,321.3 L472.1,321.9 L473.5,322.4 L474.8,323.0 L476.2,323.6 L477.6,324.1 L479.0,324.6 L480.4,325.2 L481.8,325.7 L483.2,326.2 L484.6,326.7 L486.0,327.3 L487.4,327.8 L488.8,328.3 L490.2,328.8 L491.6,329.2 L493.0,329.7 L494.4,330.2 L495.8,330.7 L497.3,331.1 L498.7,331.6 L500.1,332.1 L501.5,332.5 L503.0,333.0 L504.4,333.4 L505.8,333.8 L507.2,334.3 L508.7,334.7 L510.1,335.1 L511.6,335.5 L513.0,335.9 L514.4,336.3 L515.9,336.7 L517.3,337.1 L518.8,337.5 L520.2,337.9 L521.7,338.3 L523.1,338.7 L524.6,339.0 L526.0,339.4 L527.5,339.8 L529.0,340.1 L530.4,340.5 L531.9,340.8 L533.3,341.2 L534.8,341.5 L536.3,341.8 L537.7,342.2 L539.2,342.5 L540.7,342.8 L542.1,343.1 L543.6,343.5 L545.1,343.8 L546.6,344.1 L548.0,344.4 L549.5,344.7 L551.0,345.0 L552.5,345.3 L553.9,345.6 L555.4,345.8 L556.9,346.1 L558.4,346.4 L559.8,346.7 L561.3,347.0 L562.8,347.2 L564.3,347.5 L565.8,347.8 L567.2,348.0 L568.7,348.3 L570.2,348.5 L571.7,348.8 L573.2,349.0 L574.7,349.3 L576.1,349.5 L577.6,349.8 L579.1,350.0 L580.6,350.2 L582.1,350.5 L583.6,350.7 L585.0,350.9 L586.5,351.1 L588.0,351.3 L589.5,351.6 L591.0,351.8 L592.5,352.0 L594.0,352.2 L595.5,352.4 L596.9,352.6 L598.4,352.8 L599.9,353.0 L601.4,353.2 L602.9,353.4 L604.4,353.6 L605.9,353.7 L607.4,353.9 L608.9,354.1 L610.3,354.3 L611.8,354.4 L613.3,354.6 L614.8,354.8 L616.3,355.0 L617.8,355.1 L619.3,355.3 L620.8,355.4 L622.3,355.6 L623.8,355.7 L625.3,355.9 L626.8,356.0 L628.3,356.2 L629.8,356.3 L631.3,356.5 L632.7,356.6 L634.2,356.8 L635.7,356.9 L637.2,357.0 L638.7,357.1 L640.2,357.3 L641.7,357.4 L643.2,357.5 L644.7,357.6 L646.2,357.8 L647.7,357.9 L649.2,358.0 L650.7,358.1 L652.2,358.2 L653.7,358.3 L655.2,358.4 L656.7,358.5 L658.2,358.6 L659.7,358.7 L661.2,358.8 L662.7,358.9 L664.2,359.0 L665.7,359.1 L667.2,359.2 L668.7,359.3 L670.2,359.4 L671.7,359.4 L673.2,359.5 L674.7,359.6 L676.2,359.7 L677.7,359.7 L679.2,359.8 L680.7,359.9 L682.2,360.0 L683.7,360.0 L685.2,360.1 L686.7,360.2 L688.2,360.2 L689.7,360.3 L691.2,360.3 L692.7,360.4 L694.2,360.4 L695.7,360.5 L697.2,360.6 L698.7,360.6 L700.2,360.7 L701.8,360.7 L703.3,360.7 L704.8,360.8 L706.3,360.8 L707.8,360.9 L709.3,360.9 L710.8,360.9 L712.3,361.0 L713.8,361.0 L715.3,361.0 L716.8,361.1 L718.3,361.1 L719.8,361.1 L721.3,361.2 L722.8,361.2 L724.3,361.2 L725.8,361.2 L727.3,361.3 L728.8,361.3 L730.4,361.3 L731.9,361.3 L733.4,361.3 L734.9,361.3 L736.4,361.4 L737.9,361.4 L739.4,361.4 L740.9,361.4 L742.4,361.4 L743.9,361.4 L745.4,361.4 L746.9,361.4 L748.4,361.4 L749.9,361.4 L751.4,361.4 L752.9,361.4 L754.5,361.4 L756.0,361.4 L757.5,361.4 L759.0,361.4 L760.5,361.4 L762.0,361.4 L763.5,361.4 L765.0,361.4 L766.5,361.4 L768.0,361.4 L769.5,361.4 L771.0,361.4 L772.5,361.4 L774.0,361.4 L775.6,361.3 L777.1,361.3 L778.6,361.3 L780.1,361.3 L781.6,361.3 L783.1,361.3 L784.6,361.3 L786.1,361.2 L787.6,361.2 L789.1,361.2 L790.6,361.2 L792.1,361.2 L793.6,361.1 L795.1,361.1 L796.7,361.1 L798.2,361.1 L799.7,361.1 L801.2,361.0 L802.7,361.0 L804.2,361.0 L805.7,361.0 L807.2,360.9 L808.7,360.9 L810.2,360.9 L811.7,360.9 L813.2,360.8 L814.7,360.8 L816.2,360.8 L817.7,360.8 L819.2,360.7 L820.7,360.7 L822.3,360.7 L823.8,360.6 L825.3,360.6 L826.8,360.6 L828.3,360.6 L829.8,360.5 L831.3,360.5 L832.8,360.5 L834.3,360.4 L835.8,360.4 L837.3,360.4 L838.8,360.3 L840.3,360.3 L841.8,360.3 L843.3,360.3 L844.8,360.2 L846.3,360.2 L847.8,360.2 L849.3,360.1 L850.8,360.1 L852.3,360.1 L853.8,360.0 L855.3,360.0 L856.8,360.0 L858.3,359.9 L859.8,359.9 L861.3,359.9 L862.9,359.9 L864.4,359.8 L865.9,359.8 L867.4,359.8 L868.9,359.7 L870.4,359.7 L871.9,359.7 L873.4,359.6 L874.9,359.6 L876.4,359.6 L877.9,359.6 L879.4,359.5 L880.9,359.5 L882.4,359.5 L883.9,359.4 L885.4,359.4 L886.9,359.4 L888.4,359.3 L889.9,359.3 L891.4,359.3 L892.9,359.3 L894.4,359.2 L895.9,359.2 L897.4,359.2 L898.9,359.1 L900.4,359.1 L901.9,359.1 L903.4,359.0 L904.9,359.0 L906.4,359.0 L907.9,359.0 L909.4,358.9 L910.9,358.9 L912.4,358.9 L913.9,358.8 L915.3,358.8 L916.8,358.8 L918.3,358.7 L919.8,358.7 L921.3,358.7 L922.8,358.7 L924.3,358.6 L925.8,358.6 L927.3,358.6 L928.8,358.5 L930.3,358.5 L931.8,358.5 L933.3,358.4 L934.8,358.4 L936.3,358.4 L937.8,358.3 L939.3,358.3 L940.8,358.3 L942.3,358.3 L943.8,358.2 L945.3,358.2 L946.8,358.2 L948.3,358.1 L949.8,358.1 L951.3,358.1 L952.8,358.0 L954.3,358.0 L955.8,358.0 L957.3,358.0 L958.8,357.9 L960.3,357.9 L961.8,357.9 L963.3,357.8 L964.8,357.8 L966.3,357.8 L967.8,357.7 L969.3,357.7 L970.8,357.7 L972.3,357.6 L973.8,357.6 L975.2,357.6 L976.7,357.5 L978.2,357.5 L979.7,357.5 L981.2,357.5 L982.7,357.4 L984.2,357.4 L985.7,357.4 L987.2,357.3 L988.7,357.3 L990.2,357.3 L991.7,357.2 L993.2,357.2 L994.7,357.2 L996.2,357.1 L997.7,357.1 L999.2,357.1 L1000.7,357.0 L1002.2,357.0 L1003.7,357.0 L1005.2,356.9 L1006.7,356.9 L1008.2,356.9 L1009.7,356.8 L1011.2,356.8 L1012.7,356.8 L1014.2,356.7 L1015.7,356.7 L1017.2,356.7 L1018.7,356.6 L1020.2,356.6 L1021.7,356.6 L1023.2,356.5 L1024.7,356.5 L1026.2,356.5 L1027.7,356.4 L1029.2,356.4 L1030.7,356.4 L1032.2,356.3 L1033.7,356.3 L1035.2,356.3 L1036.6,356.2 L1038.1,356.2 L1039.6,356.2 L1041.1,356.1 L1042.6,356.1 L1044.1,356.1 L1045.6,356.0 L1047.1,356.0 L1048.6,356.0 L1050.1,355.9 L1051.6,355.9 L1053.1,355.8 L1054.6,355.8 L1056.1,355.8 L1057.6,355.7 L1059.1,355.7 L1060.6,355.7 L1062.1,355.6 L1063.6,355.6 L1065.1,355.6 L1066.6,355.5 L1068.1,355.5 L1069.6,355.5 L1071.1,355.4 L1072.6,355.4 L1074.1,355.3 L1075.6,355.3 L1077.1,355.3 L1078.6,355.2 L1080.1,355.2 L1081.6,355.2 L1083.1,355.1 L1084.7,355.1 L1086.2,355.0 L1087.7,355.0 L1089.2,355.0 L1090.7,354.9 L1092.2,354.9 L1093.7,354.9 L1095.2,354.8 L1096.7,354.8 L1098.2,354.7 L1099.7,354.7 L1101.2,354.7 L1102.7,354.6 L1104.2,354.6 L1105.7,354.5 L1107.2,354.5 L1108.7,354.5 L1110.2,354.4 L1111.7,354.4 L1113.2,354.3 L1114.7,354.3 L1116.2,354.3 L1117.7,354.2 L1119.2,354.2 L1120.7,354.1 L1122.2,354.1 L1123.7,354.1 L1125.3,354.0 L1126.8,354.0 L1128.3,353.9 L1129.8,353.9 L1131.3,353.8 L1132.8,353.8 L1134.3,353.8 L1135.8,353.7 L1137.3,353.7 L1138.8,353.6 L1140.3,353.6 L1141.8,353.5 L1143.3,353.5 L1144.8,353.5 L1146.4,353.4 L1147.9,353.4 L1149.4,353.3 L1150.9,353.3 L1152.4,353.2 L1153.9,353.2 L1225.0,412.6" fill="none" stroke="#ff8040" stroke-width="1.5" stroke-linejoin="round" stroke-linecap="butt"/>
<path d="M109.6,693.5 L109.9,692.0 L110.1,690.5 L110.4,689.1 L110.6,687.6 L110.9,686.1 L111.1,684.6 L111.3,683.1 L111.6,681.7 L111.8,680.2 L112.1,678.7 L112.3,677.2 L112.5,675.7 L112.8,674.3 L113.0,672.8 L113.2,671.3 L113.5,669.8 L113.7,668.3 L113.9,666.8 L114.1,665.4 L114.4,663.9 L114.6,662.4 L114.8,660.9 L115.0,659.4 L115.3,657.9 L115.5,656.5 L115.7,655.0 L115.9,653.5 L116.1,652.0 L116.3,650.5 L116.5,649.0 L116.8,647.6 L117.0,646.1 L117.2,644.6 L117.4,643.1 L117.6,641.6 L117.8,640.1 L118.0,638.6 L118.2,637.1 L118.4,635.7 L118.6,634.2 L118.8,632.7 L119.0,631.2 L119.2,629.7 L119.4,628.2 L119.6,626.7 L119.8,625.3 L120.0,623.8 L120.2,622.3 L120.4,620.8 L120.6,619.3 L120.8,617.8 L120.9,616.3 L121.1,614.8 L121.3,613.4 L121.5,611.9 L121.7,610.4 L121.9,608.9 L122.1,607.4 L122.3,605.9 L122.4,604.4 L122.6,602.9 L122.8,601.4 L123.0,600.0 L123.2,598.5 L123.4,597.0 L123.5,595.5 L123.7,594.0 L123.9,592.5 L124.1,591.0 L124.2,589.5 L124.4,588.0 L124.6,586.5 L124.8,585.1 L125.0,583.6 L125.1,582.1 L125.3,580.6 L125.5,579.1 L125.7,577.6 L125.8,576.1 L126.0,574.6 L126.2,573.1 L126.4,571.6 L126.5,570.2 L126.7,568.7 L126.9,567.2 L127.0,565.7 L127.2,564.2 L127.4,562.7 L127.6,561.2 L127.7,559.7 L127.9,558.2 L128.1,556.7 L128.2,555.2 L128.4,553.8 L128.6,552.3 L128.8,550.8 L128.9,549.3 L129.1,547.8 L129.3,546.3 L129.4,544.8 L129.6,543.3 L129.8,541.8 L130.0,540.3 L130.1,538.8 L130.3,537.4 L130.5,535.9 L130.6,534.4 L130.8,532.9 L131.0,531.4 L131.2,529.9 L131.3,528.4 L131.5,526.9 L131.7,525.4 L131.9,523.9 L132.0,522.5 L132.2,521.0 L132.4,519.5 L132.5,518.0 L132.7,516.5 L132.9,515.0 L133.1,513.5 L133.2,512.0 L133.4,510.5 L133.6,509.0 L133.8,507.6 L134.0,506.1 L134.1,504.6 L134.3,503.1 L134.5,501.6 L134.7,500.1 L134.8,498.6 L135.0,497.1 L135.2,495.6 L135.4,494.2 L135.6,492.7 L135.8,491.2 L135.9,489.7 L136.1,488.2 L136.3,486.7 L136.5,485.2 L136.7,483.7 L136.9,482.2 L137.0,480.8 L137.2,479.3 L137.4,477.8 L137.6,476.3 L137.8,474.8 L138.0,473.3 L138.2,471.8 L138.4,470.4 L138.6,468.9 L138.8,467.4 L139.0,465.9 L139.2,464.4 L139.4,462.9 L139.6,461.4 L139.8,459.9 L140.0,458.5 L140.2,457.0 L140.4,455.5 L140.6,454.0 L140.8,452.5 L141.0,451.0 L141.2,449.6 L141.4,448.1 L141.6,446.6 L141.8,445.1 L142.0,443.6 L142.2,442.1 L142.5,440.6 L142.7,439.2 L142.9,437.7 L143.1,436.2 L143.6,434.8 L144.2,433.4 L144.7,432.0 L145.2,430.6 L145.8,429.2 L146.3,427.7 L146.9,426.3 L147.4,424.9 L147.9,423.5 L148.5,422.1 L149.0,420.7 L149.6,419.3 L150.1,417.9 L150.6,416.5 L151.2,415.1 L151.7,413.7 L152.3,412.3 L152.8,410.9 L153.4,409.4 L153.9,408.0 L154.4,406.6 L155.0,405.2 L155.5,403.8 L156.1,402.4 L156.6,401.0 L157.2,399.6 L157.7,398.2 L158.2,396.8 L158.8,395.4 L159.3,394.0 L159.9,392.6 L160.4,391.2 L160.9,389.8 L161.5,388.3 L162.0,386.9 L162.6,385.5 L163.1,384.1 L163.7,382.7 L164.2,381.3 L164.7,379.9 L165.3,378.5 L165.8,377.1 L166.4,375.7 L166.9,374.3 L167.4,372.9 L168.0,371.5 L168.5,370.0 L169.1,368.6 L169.6,367.2 L170.1,365.8 L170.7,364.4 L171.2,363.0 L171.7,361.6 L172.3,360.2 L172.8,358.8 L173.3,357.4 L173.9,355.9 L174.4,354.5 L174.9,353.1 L175.5,351.7 L176.0,350.3 L176.5,348.9 L177.0,347.5 L177.6,346.1 L178.1,344.7 L178.6,343.2 L179.1,341.8 L179.7,340.4 L180.2,339.0 L180.7,337.6 L181.2,336.2 L181.7,334.7 L182.3,333.3 L182.8,331.9 L183.3,330.5 L183.7,331.9 L184.1,333.4 L184.5,334.8 L184.9,336.2 L185.3,337.7 L185.7,339.1 L186.0,340.6 L186.4,342.0 L186.8,343.5 L187.1,344.9 L187.5,346.4 L187.9,347.8 L188.2,349.3 L188.6,350.7 L188.9,352.2 L189.3,353.6 L189.6,355.1 L190.0,356.5 L190.4,358.0 L190.8,359.4 L191.1,360.9 L191.5,362.3 L191.9,363.8 L192.3,365.2 L192.7,366.7 L193.1,368.1 L193.5,369.6 L194.0,371.0 L194.4,372.4 L194.9,373.9 L195.3,375.3 L195.8,376.7 L196.3,378.1 L196.8,379.5 L197.4,380.9 L197.9,382.3 L198.5,383.7 L199.0,385.1 L199.6,386.5 L200.3,387.9 L200.9,389.3 L201.6,390.6 L202.2,392.0 L202.9,393.4 L203.7,394.7 L204.4,396.0 L205.2,397.4 L206.0,398.7 L206.8,400.0 L207.6,401.3 L208.5,402.6 L209.4,403.9 L210.3,405.1 L211.3,406.4 L212.3,407.6 L213.3,408.8 L214.3,409.9 L215.3,411.0 L216.4,412.1 L217.5,413.2 L218.6,414.2 L219.7,415.1 L220.9,416.1 L222.1,416.9 L223.3,417.8 L224.5,418.5 L225.8,419.2 L227.1,419.9 L228.4,420.5 L229.7,421.0 L231.0,421.5 L232.4,421.8 L233.7,422.2 L235.1,422.4 L236.6,422.6 L238.0,422.7 L239.4,422.8 L240.9,422.8 L242.3,422.7 L243.8,422.6 L245.2,422.5 L246.7,422.3 L248.2,422.0 L249.6,421.7 L251.1,421.4 L252.5,421.0 L254.0,420.6 L255.4,420.2 L256.8,419.7 L258.2,419.2 L259.6,418.7 L261.0,418.1 L262.3,417.5 L263.7,416.9 L265.0,416.3 L266.3,415.6 L267.6,414.9 L268.9,414.2 L270.2,413.4 L271.5,412.7 L272.8,411.9 L274.0,411.1 L275.3,410.3 L276.5,409.4 L277.8,408.5 L279.0,407.7 L280.2,406.7 L281.4,405.8 L282.6,404.9 L283.8,403.9 L284.9,403.0 L286.1,402.0 L287.3,401.0 L288.4,400.0 L289.6,399.0 L290.7,398.0 L291.8,396.9 L292.9,395.9 L294.0,394.8 L295.2,393.8 L296.3,392.7 L297.3,391.6 L298.4,390.5 L299.5,389.5 L300.6,388.4 L301.7,387.3 L302.7,386.2 L303.8,385.1 L304.8,384.0 L305.9,382.9 L306.9,381.8 L308.0,380.7 L309.0,379.6 L310.0,378.5 L311.0,377.3 L312.1,376.2 L313.1,375.1 L314.1,374.0 L315.1,372.8 L316.1,371.7 L317.1,370.6 L318.1,369.4 L319.1,368.3 L320.0,367.2 L321.0,366.0 L322.0,364.9 L323.0,363.7 L323.9,362.6 L324.9,361.4 L325.8,360.2 L326.8,359.1 L327.7,357.9 L328.7,356.8 L329.6,355.6 L330.6,354.4 L331.5,353.3 L332.4,352.1 L333.3,350.9 L334.3,349.7 L335.2,348.6 L336.1,347.4 L337.0,346.2 L337.9,345.0 L338.8,343.8 L339.7,342.6 L340.6,341.4 L341.5,340.2 L342.4,339.1 L343.3,337.9 L344.2,336.7 L345.1,335.5 L346.0,334.3 L346.9,333.1 L347.8,331.9 L348.6,330.6 L349.5,329.4 L350.4,328.2 L351.3,327.0 L352.1,325.8 L353.0,324.6 L353.9,323.4 L354.7,322.2 L355.6,321.0 L356.5,319.7 L357.3,318.5 L358.2,317.3 L359.0,316.1 L359.9,314.9 L360.8,313.6 L361.6,312.4 L362.5,311.2 L363.3,310.0 L364.2,308.7 L365.0,307.5 L365.9,306.3 L366.7,305.1 L367.6,303.8 L368.4,302.6 L369.3,301.4 L370.1,300.1 L370.9,298.9 L371.8,297.7 L372.6,296.4 L373.5,295.2 L374.3,294.0 L375.2,292.7 L376.0,291.5 L376.9,290.3 L377.7,289.0 L378.5,287.8 L379.4,286.6 L380.2,285.3 L381.1,284.1 L381.9,282.9 L382.8,281.6 L383.6,280.4 L384.4,279.1 L385.3,277.9 L386.1,276.7 L387.0,275.4 L387.8,274.2 L388.7,272.9 L389.5,271.7 L390.3,270.5 L391.2,269.2 L392.0,268.0 L392.9,266.7 L393.7,265.5 L394.5,264.3 L395.4,263.0 L396.2,261.8 L397.1,260.5 L397.9,259.3 L398.7,258.0 L399.6,256.8 L400.4,255.5 L401.3,254.3 L402.1,253.1 L402.9,251.8 L403.8,250.6 L404.6,249.3 L405.4,248.1 L406.3,246.8 L407.1,245.6 L408.0,244.3 L408.8,243.1 L409.6,241.8 L410.5,240.6 L411.3,239.3 L412.1,238.1 L413.0,236.8 L413.8,235.6 L414.6,234.3 L415.5,233.1 L416.3,231.8 L417.1,230.6 L418.0,229.3 L418.8,228.1 L419.6,226.8 L420.4,225.6 L421.3,224.3 L422.1,223.1 L422.9,221.8 L423.8,220.5 L424.6,219.3 L425.4,218.0 L426.2,216.8 L427.1,215.5 L427.9,214.3 L428.7,213.0 L429.5,211.8 L430.4,210.5 L431.2,209.2 L432.0,208.0 L432.8,206.7 L433.6,205.5 L434.5,204.2 L435.3,202.9 L436.1,201.7 L436.9,200.4 L437.7,199.2 L438.6,197.9 L439.4,196.6 L440.2,195.4 L441.0,194.1 L441.8,192.9 L442.6,191.6 L443.5,190.3 L444.3,189.1 L445.1,187.8 L445.9,186.5 L446.7,185.3 L447.5,184.0 L448.3,182.7 L449.1,181.5 L449.9,180.2 L450.7,178.9 L451.6,177.7 L452.4,176.4 L453.2,175.1 L454.0,173.9 L454.8,172.6 L455.6,171.3 L456.4,170.1 L457.2,168.8 L458.0,167.5 L458.8,166.3 L459.6,165.0 L460.4,163.7 L461.2,162.5 L462.0,161.2 L462.8,159.9 L463.6,158.6 L464.3,157.4 L465.1,156.1 L465.9,154.8 L466.7,153.6 L467.5,152.3 L468.3,151.0 L469.1,149.7 L469.9,148.5 L470.7,147.2 L471.5,145.9 L472.2,144.6 L473.0,143.4 L473.8,142.1 L474.6,140.8 L475.4,139.5 L476.1,138.3 L476.9,137.0 L477.7,135.7 L478.5,134.4 L479.3,133.2 L480.0,131.9 L480.8,130.6 L482.1,129.9 L483.5,129.2 L484.8,128.5 L486.1,127.8 L487.5,127.1 L488.8,126.4 L490.1,125.7 L491.5,125.0 L492.8,124.3 L494.1,123.6 L495.5,122.9 L496.8,122.3 L498.2,121.6 L499.5,120.9 L500.9,120.2 L502.2,119.6 L503.6,118.9 L504.9,118.3 L506.3,117.6 L507.6,116.9 L509.0,116.3 L510.3,115.6 L511.7,115.0 L513.1,114.4 L514.4,113.7 L515.8,113.1 L517.2,112.4 L518.5,111.8 L519.9,111.2 L521.3,110.6 L522.6,109.9 L524.0,109.3 L525.4,108.7 L526.7,108.1 L528.1,107.5 L529.5,106.9 L530.9,106.3 L532.2,105.7 L533.6,105.1 L535.0,104.5 L536.4,103.9 L537.8,103.3 L539.2,102.7 L540.5,102.1 L541.9,101.5 L543.3,101.0 L544.7,100.4 L546.1,99.8 L547.5,99.2 L548.9,98.7 L550.3,98.1 L551.7,97.6 L553.1,97.0 L554.5,96.4 L555.9,95.9 L557.3,95.3 L558.7,94.8 L560.1,94.3 L561.5,93.7 L562.9,93.2 L564.3,92.7 L565.7,92.1 L567.1,91.6 L568.5,91.1 L569.9,90.6 L571.3,90.0 L572.7,89.5 L574.1,89.0 L575.5,88.5 L577.0,88.0 L578.4,87.5 L579.8,87.0 L581.2,86.5 L582.6,86.0 L584.1,85.5 L585.5,85.0 L586.9,84.5 L588.3,84.1 L589.7,83.6 L591.2,83.1 L592.6,82.6 L594.0,82.2 L595.5,81.7 L596.9,81.2 L598.3,80.8 L599.7,80.3 L601.2,79.9 L602.6,79.4 L604.0,79.0 L605.5,78.5 L606.9,78.1 L608.4,77.6 L609.8,77.2 L611.2,76.8 L612.7,76.3 L614.1,75.9 L615.6,75.5 L617.0,75.1 L618.4,74.6 L619.9,74.2 L621.3,73.8 L622.8,73.4 L624.2,73.0 L625.7,72.6 L627.1,72.2 L628.6,71.8 L630.0,71.4 L631.5,71.0 L632.9,70.6 L634.4,70.2 L635.8,69.9 L637.3,69.5 L638.7,69.1 L640.2,68.7 L641.7,68.4 L643.1,68.0 L644.6,67.6 L646.0,67.3 L647.5,66.9 L649.0,66.6 L650.4,66.2 L651.9,65.9 L653.3,65.5 L654.8,65.2 L656.3,64.8 L657.7,64.5 L659.2,64.2 L660.7,63.8 L662.1,63.5 L663.6,63.2 L665.1,62.9 L666.5,62.5 L668.0,62.2 L669.5,61.9 L671.0,61.6 L672.4,61.3 L673.9,61.0 L675.4,60.7 L676.9,60.4 L678.3,60.1 L679.8,59.8 L681.3,59.5 L682.8,59.3 L684.3,59.0 L685.7,58.7 L687.2,58.4 L688.7,58.1 L690.2,57.9 L691.7,57.6 L693.1,57.4 L694.6,57.1 L696.1,56.8 L697.6,56.6 L699.1,56.3 L700.6,56.1 L702.0,55.8 L703.5,55.6 L705.0,55.4 L706.5,55.1 L708.0,54.9 L737.0,54.6 L740.0,56.2 L883.0,56.2 L886.5,54.2 L919.5,54.0 L923.0,52.2" fill="none" stroke="#ff00ff" stroke-width="1.5" stroke-linejoin="round" stroke-linecap="butt"/>
<path d="M1160.6,124.9 L1161.9,125.6 L1163.3,126.3 L1164.6,127.0 L1166.0,127.7 L1167.3,128.4 L1168.6,129.1 L1169.9,129.8 L1171.3,130.5 L1172.6,131.2 L1173.9,131.9 L1175.2,132.6 L1176.5,133.4 L1177.9,134.1 L1179.2,134.8 L1180.5,135.6 L1181.8,136.3 L1183.1,137.0 L1184.4,137.8 L1185.7,138.5 L1187.0,139.3 L1188.3,140.1 L1189.6,140.8 L1190.9,141.6 L1192.2,142.3 L1193.5,143.1 L1194.8,143.9 L1196.0,144.7 L1197.3,145.4 L1198.6,146.2 L1199.9,147.0 L1201.2,147.8 L1202.4,148.6 L1203.7,149.4 L1205.0,150.2 L1206.2,151.0 L1207.5,151.8 L1208.8,152.6 L1210.0,153.4 L1211.3,154.3 L1212.6,155.1 L1213.8,155.9 L1215.1,156.7 L1216.3,157.6 L1217.6,158.4 L1218.8,159.2 L1220.0,160.1 L1221.3,160.9 L1222.5,161.8 L1223.8,162.6 L1225.0,163.5" fill="none" stroke="#ff00ff" stroke-width="1.5" stroke-linejoin="round" stroke-linecap="butt"/>
<path d="M691.0,692.6 L692.5,692.3 L694.0,692.1 L695.5,691.8 L696.9,691.5 L698.4,691.3 L699.9,691.0 L701.4,690.7 L702.9,690.5 L704.4,690.2 L705.9,690.0 L707.4,689.7 L708.9,689.5 L710.3,689.2 L711.8,689.0 L713.3,688.8 L714.8,688.5 L716.3,688.3 L717.8,688.1 L719.3,687.9 L720.8,687.6 L722.3,687.4 L723.8,687.2 L725.3,687.0 L726.8,686.8 L728.3,686.6 L729.8,686.4 L731.2,686.2 L732.7,686.0 L734.2,685.8 L735.7,685.6 L737.2,685.4 L738.7,685.2 L740.2,685.0 L741.7,684.9 L743.2,684.7 L744.7,684.5 L746.2,684.3 L747.7,684.2 L749.2,684.0 L750.7,683.8 L752.2,683.7 L753.7,683.5 L755.2,683.4 L756.7,683.2 L758.2,683.1 L759.7,682.9 L761.2,682.8 L762.7,682.6 L764.2,682.5 L765.7,682.4 L767.2,682.2 L768.7,682.1 L770.2,682.0 L771.7,681.9 L773.2,681.7 L774.7,681.6 L776.2,681.5 L777.7,681.4 L779.2,681.3 L780.7,681.2 L782.2,681.1 L783.7,681.0 L785.2,680.9 L786.7,680.8 L788.2,680.7 L789.7,680.6 L791.2,680.5 L792.7,680.4 L794.2,680.3 L795.7,680.3 L797.3,680.2 L798.8,680.1 L800.3,680.0 L801.8,680.0 L803.3,679.9 L804.8,679.8 L806.3,679.8 L807.8,679.7 L809.3,679.7 L810.8,679.6 L812.3,679.6 L813.8,679.5 L815.3,679.5 L816.8,679.4 L818.3,679.4 L819.8,679.4 L821.3,679.3 L822.8,679.3 L824.3,679.3 L825.8,679.2 L827.3,679.2 L828.9,679.2 L830.4,679.2 L831.9,679.2 L833.4,679.2 L834.9,679.1 L836.4,679.1 L837.9,679.1 L839.4,679.1 L840.9,679.1 L842.4,679.1 L843.9,679.1 L845.4,679.2 L846.9,679.2 L848.4,679.2 L849.9,679.2 L851.4,679.2 L852.9,679.2 L854.4,679.3 L856.0,679.3 L857.5,679.3 L859.0,679.3 L860.5,679.4 L862.0,679.4 L863.5,679.5 L865.0,679.5 L866.5,679.5 L868.0,679.6 L869.5,679.6 L871.0,679.7 L872.5,679.7 L874.0,679.8 L875.5,679.9 L877.0,679.9 L878.5,680.0 L880.0,680.1 L881.5,680.1 L883.0,680.2 L884.5,680.3 L886.1,680.4 L887.6,680.4 L889.1,680.5 L890.6,680.6 L892.1,680.7 L893.6,680.8 L895.1,680.9 L896.6,681.0 L898.1,681.1 L899.6,681.2 L901.1,681.3 L902.6,681.4 L904.1,681.5 L905.6,681.6 L907.1,681.7 L908.6,681.8 L910.1,681.9 L911.6,682.1 L913.1,682.2 L914.6,682.3 L916.1,682.4 L917.6,682.6 L919.1,682.7 L920.6,682.8 L922.1,683.0 L923.6,683.1 L925.1,683.3 L926.6,683.4 L928.1,683.5 L929.6,683.7 L931.1,683.8 L932.6,684.0 L934.1,684.2 L935.6,684.3 L937.1,684.5 L938.6,684.6 L940.1,684.8 L941.6,685.0 L943.1,685.1 L944.6,685.3 L946.1,685.5 L947.6,685.7 L949.1,685.9 L950.6,686.0 L952.1,686.2 L953.6,686.4 L955.1,686.6 L956.6,686.8 L958.0,687.0 L959.5,687.2 L961.0,687.4 L962.5,687.6 L964.0,687.8 L965.5,688.0 L967.0,688.2 L968.5,688.4 L970.0,688.6 L971.5,688.8 L973.0,689.1 L974.5,689.3 L976.0,689.5 L977.4,689.7 L978.9,690.0 L980.4,690.2 L981.9,690.4 L983.4,690.6 L984.9,690.9 L986.4,691.1 L987.9,691.4 L989.4,691.6 L990.8,691.9 L992.3,692.1 L993.8,692.4 L995.3,692.6" fill="none" stroke="#ff00ff" stroke-width="2.1" stroke-linejoin="round" stroke-linecap="butt"/>
<path d="M106.4,693.5 L106.6,692.0 L106.8,690.5 L107.0,689.0 L107.2,687.5 L107.4,686.0 L107.6,684.5 L107.8,683.0 L108.0,681.5 L108.2,680.1 L108.4,678.6 L108.6,677.1 L108.8,675.6 L109.0,674.1 L109.2,672.6 L109.4,671.1 L109.6,669.6 L109.8,668.1 L110.0,666.6 L110.2,665.1 L110.4,663.6 L110.6,662.1 L110.8,660.6 L111.0,659.1 L111.2,657.6 L111.4,656.1 L111.6,654.7 L111.8,653.2 L112.0,651.7 L112.2,650.2 L112.4,648.7 L112.6,647.2 L112.8,645.7 L113.0,644.2 L113.2,642.7 L113.4,641.2 L113.6,639.7 L113.7,638.2 L113.9,636.7 L114.1,635.2 L114.3,633.7 L114.5,632.2 L114.7,630.7 L114.9,629.2 L115.1,627.7 L115.3,626.3 L115.5,624.8 L115.7,623.3 L115.9,621.8 L116.1,620.3 L116.3,618.8 L116.5,617.3 L116.7,615.8 L116.8,614.3 L117.0,612.8 L117.2,611.3 L117.4,609.8 L117.6,608.3 L117.8,606.8 L118.0,605.3 L118.2,603.8 L118.4,602.3 L118.6,600.8 L118.8,599.3 L118.9,597.8 L119.1,596.3 L119.3,594.8 L119.5,593.4 L119.7,591.9 L119.9,590.4 L120.1,588.9 L120.3,587.4 L120.4,585.9 L120.6,584.4 L120.8,582.9 L121.0,581.4 L121.2,579.9 L121.4,578.4 L121.6,576.9 L121.7,575.4 L121.9,573.9 L122.1,572.4 L122.3,570.9 L122.5,569.4 L122.7,567.9 L122.8,566.4 L123.0,564.9 L123.2,563.4 L123.4,561.9 L123.6,560.4 L123.8,558.9 L123.9,557.4 L124.1,555.9 L124.3,554.4 L124.5,552.9 L124.6,551.4 L124.8,550.0 L125.0,548.5 L125.2,547.0 L125.4,545.5 L125.5,544.0 L125.7,542.5 L125.9,541.0 L126.1,539.5 L126.2,538.0 L126.4,536.5 L126.6,535.0 L126.8,533.5 L126.9,532.0 L127.1,530.5 L127.3,529.0 L127.5,527.5 L127.6,526.0 L127.8,524.5 L128.0,523.0 L128.2,521.5 L128.3,520.0 L128.5,518.5 L128.7,517.0 L128.8,515.5 L129.0,514.0 L129.6,512.6 L130.1,511.2 L130.7,509.8 L131.2,508.4 L131.8,507.0 L132.4,505.6 L132.9,504.2 L133.5,502.7 L134.0,501.3 L134.6,499.9 L135.1,498.5 L135.7,497.1 L136.2,495.7 L136.8,494.3 L137.3,492.9 L137.9,491.5 L138.4,490.1 L139.0,488.6 L139.5,487.2 L140.1,485.8 L140.6,484.4 L141.2,483.0 L141.7,481.6 L142.3,480.2 L142.8,478.8 L143.4,477.4 L143.9,475.9 L144.4,474.5 L145.0,473.1 L145.5,471.7 L146.1,470.3 L146.6,468.9 L147.2,467.5 L147.7,466.1 L148.2,464.6 L148.8,463.2 L149.3,461.8 L149.9,460.4 L150.4,459.0 L150.9,457.6 L151.5,456.2 L152.0,454.7 L152.6,453.3 L153.1,451.9 L153.6,450.5 L154.2,449.1 L154.7,447.7 L155.3,446.2 L155.8,444.8 L156.3,443.4 L156.9,442.0 L157.4,440.6 L157.9,439.2 L158.5,437.8 L159.0,436.3 L159.6,434.9 L160.1,433.5 L160.6,432.1 L161.2,430.7 L161.7,429.3 L162.2,427.8 L162.8,426.4 L163.3,425.0 L163.9,423.6 L164.4,422.2 L164.9,420.8 L165.5,419.4 L166.0,417.9 L166.5,416.5 L167.1,415.1 L167.6,413.7 L168.2,412.3 L168.7,410.9 L169.2,409.5 L169.8,408.0 L170.3,406.6 L170.9,405.2 L171.4,403.8 L171.9,402.4 L172.5,401.0 L173.0,399.6 L173.6,398.1 L174.1,396.7 L174.7,395.3 L175.2,393.9 L175.8,395.3 L176.3,396.8 L176.9,398.2 L177.4,399.6 L177.9,401.0 L178.3,402.5 L178.8,403.9 L179.3,405.3 L179.7,406.7 L180.1,408.1 L180.5,409.6 L181.0,411.0 L181.4,412.4 L181.8,413.8 L182.2,415.3 L182.6,416.7 L183.0,418.1 L183.4,419.5 L183.8,420.9 L184.2,422.4 L184.6,423.8 L185.0,425.2 L185.4,426.6 L185.8,428.0 L186.3,429.5 L186.7,430.9 L187.2,432.3 L187.7,433.7 L188.2,435.2 L188.7,436.6 L189.2,438.0 L189.8,439.4 L190.3,440.9 L190.9,442.3 L191.6,443.7 L192.2,445.1 L192.9,446.5 L193.6,448.0 L194.3,449.3 L195.0,450.7 L195.8,452.1 L196.6,453.4 L197.4,454.8 L198.3,456.1 L199.1,457.4 L200.0,458.6 L201.0,459.9 L201.9,461.1 L202.9,462.2 L203.9,463.4 L205.0,464.5 L206.1,465.6 L207.2,466.6 L208.3,467.6 L209.5,468.5 L210.7,469.4 L211.9,470.3 L213.2,471.0 L214.5,471.8 L215.8,472.5 L217.2,473.1 L218.6,473.7 L220.0,474.3 L221.4,474.7 L222.8,475.1 L224.2,475.5 L225.7,475.8 L227.1,476.0 L228.6,476.2 L230.0,476.3 L231.5,476.3 L233.0,476.3 L234.4,476.2 L235.8,476.1 L237.3,475.8 L238.7,475.5 L240.1,475.1 L241.5,474.7 L242.8,474.1 L244.2,473.6 L245.5,473.0 L246.9,472.3 L248.2,471.6 L249.5,470.9 L250.8,470.1 L252.1,469.3 L253.4,468.5 L254.7,467.7 L256.0,466.9 L257.2,466.1 L258.5,465.2 L259.7,464.4 L261.0,463.5 L262.2,462.7 L263.5,461.8 L264.7,460.9 L265.9,460.0 L267.1,459.1 L268.3,458.3 L269.5,457.3 L270.7,456.4 L271.9,455.5 L273.1,454.6 L274.3,453.7 L275.4,452.7 L276.6,451.8 L277.7,450.8 L278.9,449.9 L280.0,448.9 L281.2,448.0 L282.3,447.0 L283.4,446.0 L284.6,445.0 L285.7,444.0 L286.8,443.0 L287.9,442.0 L289.0,441.0 L290.1,440.0 L291.2,439.0 L292.3,438.0 L293.3,436.9 L294.4,435.9 L295.5,434.8 L296.5,433.8 L297.6,432.7 L298.6,431.7 L299.7,430.6 L300.7,429.6 L301.8,428.5 L302.8,427.4 L303.8,426.3 L304.9,425.2 L305.9,424.1 L306.9,423.0 L307.9,421.9 L308.9,420.8 L309.9,419.7 L310.9,418.6 L311.9,417.5 L312.9,416.4 L313.9,415.2 L314.8,414.1 L315.8,413.0 L316.8,411.8 L317.8,410.7 L318.7,409.5 L319.7,408.4 L320.6,407.2 L321.6,406.1 L322.5,404.9 L323.5,403.7 L324.4,402.5 L325.4,401.4 L326.3,400.2 L327.2,399.0 L328.2,397.8 L329.1,396.6 L330.0,395.5 L330.9,394.3 L331.8,393.1 L332.8,391.9 L333.7,390.7 L334.6,389.4 L335.5,388.2 L336.4,387.0 L337.3,385.8 L338.2,384.6 L339.1,383.4 L340.0,382.2 L340.8,380.9 L341.7,379.7 L342.6,378.5 L343.5,377.2 L344.4,376.0 L345.2,374.8 L346.1,373.5 L347.0,372.3 L347.9,371.1 L348.7,369.8 L349.6,368.6 L350.5,367.3 L351.3,366.1 L352.2,364.8 L353.0,363.6 L353.9,362.3 L354.7,361.1 L355.6,359.8 L356.5,358.6 L357.3,357.3 L358.2,356.1 L359.0,354.8 L359.8,353.5 L360.7,352.3 L361.5,351.0 L362.4,349.8 L363.2,348.5 L364.1,347.2 L364.9,346.0 L365.7,344.7 L366.6,343.4 L367.4,342.2 L368.2,340.9 L369.1,339.6 L369.9,338.4 L370.7,337.1 L371.6,335.8 L372.4,334.6 L373.2,333.3 L374.1,332.0 L374.9,330.8 L375.7,329.5 L376.6,328.2 L377.4,327.0 L378.2,325.7 L379.1,324.5 L379.9,323.2 L380.7,321.9 L381.6,320.7 L382.4,319.4 L383.2,318.1 L384.1,316.9 L384.9,315.6 L385.7,314.4 L386.5,313.1 L387.4,311.9 L388.2,310.6 L389.1,309.4 L389.9,308.1 L390.7,306.9 L391.6,305.6 L392.4,304.4 L393.2,303.1 L394.1,301.9 L394.9,300.6 L395.8,299.4 L396.6,298.2 L397.4,296.9 L398.3,295.7 L399.1,294.5 L400.0,293.2 L400.8,292.0 L401.7,290.8 L402.5,289.6 L403.4,288.3 L404.2,287.1 L405.1,285.9 L406.0,284.7 L406.8,283.5 L407.7,282.3 L408.5,281.1 L409.4,279.9 L410.3,278.7 L411.2,277.5 L412.0,276.3 L412.9,275.1 L414.0,276.2 L415.1,277.3 L416.2,278.3 L417.3,279.4 L418.4,280.4 L419.6,281.5 L420.7,282.5 L421.8,283.5 L423.0,284.5 L424.1,285.5 L425.3,286.5 L426.5,287.4 L427.6,288.4 L428.8,289.3 L430.0,290.3 L431.2,291.2 L432.4,292.1 L433.6,293.1 L434.8,294.0 L436.0,294.8 L437.2,295.7 L438.4,296.6 L439.6,297.5 L440.9,298.3 L442.1,299.2 L443.3,300.0 L444.6,300.8 L445.8,301.6 L447.1,302.5 L448.4,303.3 L449.6,304.0 L450.9,304.8 L452.2,305.6 L453.4,306.4 L454.7,307.1 L456.0,307.9 L457.3,308.6 L458.6,309.3 L459.9,310.1 L461.2,310.8 L462.5,311.5 L463.8,312.2 L465.2,312.9 L466.5,313.6 L467.8,314.2 L469.1,314.9 L470.5,315.6 L471.8,316.2 L473.1,316.9 L474.5,317.5 L475.8,318.1 L477.2,318.8 L478.5,319.4 L479.9,320.0 L481.3,320.6 L482.6,321.2 L484.0,321.8 L485.4,322.3 L486.7,322.9 L488.1,323.5 L489.5,324.0 L490.9,324.6 L492.3,325.1 L493.6,325.7 L495.0,326.2 L496.4,326.7 L497.8,327.2 L499.2,327.8 L500.6,328.3 L502.0,328.8 L503.4,329.3 L504.9,329.7 L506.3,330.2 L507.7,330.7 L509.1,331.2 L510.5,331.6 L511.9,332.1 L513.4,332.6 L514.8,333.0 L516.2,333.5 L517.6,333.9 L519.1,334.3 L520.5,334.7 L521.9,335.2 L523.4,335.6 L524.8,336.0 L526.2,336.4 L527.7,336.8 L529.1,337.2 L530.6,337.6 L532.0,338.0 L533.5,338.3 L534.9,338.7 L536.4,339.1 L537.8,339.5 L539.3,339.8 L540.7,340.2 L542.2,340.5 L543.7,340.9 L545.1,341.2 L546.6,341.5 L548.1,341.9 L549.5,342.2 L551.0,342.5 L552.5,342.9 L553.9,343.2 L555.4,343.5 L556.9,343.8 L558.3,344.1 L559.8,344.4 L561.3,344.7 L562.8,345.0 L564.3,345.3 L565.7,345.5 L567.2,345.8 L568.7,346.1 L570.2,346.4 L571.7,346.6 L573.1,346.9 L574.6,347.1 L576.1,347.4 L577.6,347.7 L579.1,347.9 L580.6,348.2 L582.1,348.4 L583.6,348.6 L585.1,348.9 L586.5,349.1 L588.0,349.3 L589.5,349.6 L591.0,349.8 L592.5,350.0 L594.0,350.2 L595.5,350.4 L597.0,350.6 L598.5,350.9 L600.0,351.1 L601.5,351.3 L603.0,351.5 L604.5,351.7 L606.0,351.9 L607.5,352.0 L609.0,352.2 L610.5,352.4 L612.0,352.6 L613.5,352.8 L615.0,353.0 L616.5,353.2 L618.0,353.3 L619.5,353.5 L621.0,353.7 L622.5,353.8 L624.0,354.0 L625.5,354.2 L627.0,354.3 L628.5,354.5 L630.0,354.7 L631.5,354.8 L633.0,355.0 L634.5,355.1 L636.0,355.3 L637.5,355.4 L639.0,355.6 L640.5,355.7 L642.0,355.9 L643.5,356.0 L645.0,356.2 L646.5,356.3 L648.0,356.4 L649.5,356.6 L651.0,356.7 L652.5,356.8 L654.0,357.0 L655.5,357.1 L657.0,357.2 L658.5,357.3 L660.0,357.5 L661.5,357.6 L663.0,357.7 L664.5,357.8 L666.0,357.9 L667.5,358.1 L669.0,358.2 L670.5,358.3 L672.0,358.4 L673.5,358.5 L675.0,358.6 L676.5,358.7 L678.0,358.8 L679.5,358.9 L680.9,359.0 L682.4,359.1 L683.9,359.2 L685.4,359.3 L686.9,359.4 L688.4,359.5 L689.9,359.6 L691.4,359.7 L692.9,359.7 L694.4,359.8 L695.9,359.9 L697.4,360.0 L698.9,360.1 L700.4,360.2 L701.9,360.2 L703.4,360.3 L704.9,360.4 L706.4,360.5 L707.9,360.5 L709.4,360.6 L710.9,360.7 L712.4,360.7 L713.9,360.8 L715.4,360.9 L716.9,360.9 L718.4,361.0 L719.9,361.1 L721.4,361.1 L722.9,361.2 L724.4,361.2 L725.9,361.3 L727.4,361.4 L728.9,361.4 L730.4,361.5 L731.9,361.5 L733.4,361.6 L734.9,361.6 L736.4,361.7 L737.9,361.7 L739.4,361.8 L740.9,361.8 L742.4,361.8 L743.9,361.9 L745.4,361.9 L746.9,362.0 L748.4,362.0 L749.9,362.0 L751.4,362.1 L752.9,362.1 L754.4,362.1 L755.9,362.2 L757.4,362.2 L758.9,362.2 L760.4,362.3 L761.9,362.3 L763.4,362.3 L764.9,362.4 L766.4,362.4 L767.9,362.4 L769.4,362.4 L770.9,362.5 L772.4,362.5 L773.9,362.5 L775.4,362.5 L776.9,362.5 L778.4,362.6 L779.9,362.6 L781.4,362.6 L782.9,362.6 L784.4,362.6 L785.9,362.6 L787.4,362.7 L788.9,362.7 L790.4,362.7 L791.9,362.7 L793.4,362.7 L794.9,362.7 L796.4,362.7 L797.9,362.7 L799.4,362.7 L800.9,362.7 L802.4,362.8 L803.9,362.8 L805.4,362.8 L806.9,362.8 L808.4,362.8 L809.9,362.8 L811.4,362.8 L812.9,362.8 L814.4,362.8 L815.9,362.8 L817.4,362.8 L818.8,362.8 L820.3,362.8 L821.8,362.8 L823.3,362.8 L824.8,362.8 L826.3,362.8 L827.8,362.8 L829.3,362.7 L830.8,362.7 L832.3,362.7 L833.8,362.7 L835.3,362.7 L836.8,362.7 L838.3,362.7 L839.8,362.7 L841.3,362.7 L842.8,362.7 L844.3,362.7 L845.8,362.7 L847.3,362.7 L848.8,362.6 L850.4,362.6 L851.9,362.6 L853.4,362.6 L854.9,362.6 L856.4,362.6 L857.9,362.6 L859.4,362.6 L860.9,362.5 L862.4,362.5 L863.9,362.5 L865.4,362.5 L866.9,362.5 L868.4,362.5 L869.9,362.5 L871.4,362.4 L872.9,362.4 L874.4,362.4 L875.9,362.4 L877.4,362.4 L878.9,362.4 L880.4,362.3 L881.9,362.3 L883.4,362.3 L884.9,362.3 L886.4,362.3 L887.9,362.3 L889.4,362.2 L890.9,362.2 L892.4,362.2 L893.9,362.2 L895.4,362.2 L896.9,362.2 L898.4,362.1 L899.9,362.1 L901.4,362.1 L902.9,362.1 L904.4,362.1 L905.9,362.0 L907.4,362.0 L908.9,362.0 L910.4,362.0 L911.9,362.0 L913.4,361.9 L914.9,361.9 L916.4,361.9 L917.9,361.9 L919.4,361.9 L920.9,361.8 L922.4,361.8 L923.9,361.8 L925.4,361.8 L926.9,361.7 L928.4,361.7 L929.9,361.7 L931.4,361.7 L932.9,361.7 L934.4,361.6 L935.9,361.6 L937.4,361.6 L938.9,361.6 L940.4,361.5 L941.9,361.5 L943.4,361.5 L945.0,361.5 L946.5,361.4 L948.0,361.4 L949.5,361.4 L951.0,361.4 L952.5,361.3 L954.0,361.3 L955.5,361.3 L957.0,361.3 L958.5,361.2 L960.0,361.2 L961.5,361.2 L963.0,361.2 L964.5,361.1 L966.0,361.1 L967.5,361.1 L969.0,361.1 L970.5,361.0 L972.0,361.0 L973.5,361.0 L975.0,361.0 L976.5,360.9 L978.0,360.9 L979.5,360.9 L981.0,360.9 L982.5,360.8 L984.0,360.8 L985.5,360.8 L987.0,360.7 L988.5,360.7 L990.0,360.7 L991.5,360.7 L993.0,360.6 L994.5,360.6 L996.0,360.6 L997.5,360.6 L999.0,360.5 L1000.6,360.5 L1002.1,360.5 L1003.6,360.4 L1005.1,360.4 L1006.6,360.4 L1008.1,360.4 L1009.6,360.3 L1011.1,360.3 L1012.6,360.3 L1014.1,360.2 L1015.6,360.2 L1017.1,360.2 L1018.6,360.2 L1020.1,360.1 L1021.6,360.1 L1023.1,360.1 L1024.6,360.0 L1026.1,360.0 L1027.6,360.0 L1029.1,360.0 L1030.6,359.9 L1032.1,359.9 L1033.6,359.9 L1035.1,359.8 L1036.6,359.8 L1038.1,359.8 L1039.6,359.7 L1041.1,359.7 L1042.6,359.7 L1044.1,359.7 L1045.6,359.6 L1047.1,359.6 L1048.6,359.6 L1050.1,359.5 L1051.6,359.5 L1053.1,359.5 L1054.6,359.5 L1056.1,359.4 L1057.6,359.4 L1059.1,359.4 L1060.6,359.3 L1062.2,359.3 L1063.7,359.3 L1065.2,359.2 L1066.7,359.2 L1068.2,359.2 L1069.7,359.1 L1071.2,359.1 L1072.7,359.1 L1074.2,359.1 L1075.7,359.0 L1077.2,359.0 L1078.7,359.0 L1080.2,358.9 L1081.7,358.9 L1083.2,358.9 L1084.7,358.8 L1086.2,358.8 L1087.7,358.8 L1089.2,358.8 L1090.7,358.7 L1092.2,358.7 L1093.7,358.7 L1095.2,358.6 L1096.7,358.6 L1098.2,358.6 L1099.7,358.5 L1101.2,358.5 L1102.7,358.5 L1104.2,358.5 L1105.7,358.4 L1107.2,358.4 L1108.7,358.4 L1110.2,358.3 L1111.7,358.3 L1113.2,358.3 L1114.7,358.2 L1116.2,358.2 L1117.7,358.2 L1119.2,358.2 L1120.7,358.1 L1122.2,358.1 L1123.7,358.1 L1125.2,358.0 L1126.7,358.0 L1128.2,358.0 L1129.7,357.9 L1131.2,357.9 L1132.7,357.9 L1134.2,357.9 L1135.7,357.8 L1137.2,357.8 L1138.7,357.8 L1140.2,357.7 L1141.7,357.7 L1143.2,357.7 L1144.7,357.7 L1146.2,357.6 L1147.7,357.6 L1149.2,357.6 L1150.7,357.5 L1152.2,357.5 L1153.7,357.5 L1155.2,357.5 L1156.7,357.4 L1158.2,357.4 L1225.0,408.4" fill="none" stroke="#00ffff" stroke-width="1.5" stroke-linejoin="round" stroke-linecap="butt"/>
<path d="M135.3,693.5 L135.4,692.0 L135.5,690.5 L135.6,689.0 L135.7,687.5 L135.9,686.0 L136.0,684.5 L136.1,683.0 L136.2,681.5 L136.3,680.0 L136.5,678.5 L136.6,677.0 L136.7,675.4 L136.9,673.9 L137.0,672.4 L137.1,670.9 L137.3,669.4 L137.4,667.9 L137.5,666.4 L137.7,664.9 L137.8,663.4 L138.0,661.9 L138.1,660.4 L138.2,658.9 L138.4,657.4 L138.5,655.9 L138.7,654.4 L138.8,652.9 L139.0,651.4 L139.1,649.9 L139.3,648.4 L139.4,646.9 L139.6,645.4 L139.8,643.9 L139.9,642.4 L140.1,640.9 L140.2,639.4 L140.4,637.9 L140.6,636.4 L140.7,634.9 L140.9,633.4 L141.0,631.9 L141.2,630.4 L141.4,628.9 L141.5,627.4 L141.7,625.9 L141.9,624.4 L142.1,622.9 L142.2,621.4 L142.4,619.9 L142.6,618.4 L142.7,616.9 L142.9,615.4 L143.1,613.9 L143.3,612.4 L143.5,610.9 L143.6,609.4 L143.8,607.9 L144.0,606.4 L144.2,604.9 L144.3,603.4 L144.5,601.9 L144.7,600.4 L144.9,598.9 L145.1,597.4 L145.2,595.9 L145.4,594.4 L145.6,592.9 L145.8,591.4 L146.0,589.9 L146.2,588.4 L146.4,586.9 L146.5,585.5 L146.7,584.0 L146.9,582.5 L147.1,581.0 L147.3,579.5 L147.5,578.0 L147.6,576.5 L147.8,575.0 L148.0,573.5 L148.2,572.0 L148.4,570.5 L148.6,569.0 L148.8,567.5 L149.0,566.0 L149.1,564.5 L149.3,563.0 L149.5,561.5 L149.7,560.0 L150.0,558.5 L150.4,557.1 L150.8,555.6 L151.1,554.1 L151.5,552.7 L151.9,551.2 L152.2,549.8 L152.6,548.3 L153.0,546.9 L153.4,545.4 L153.8,544.0 L154.2,542.5 L154.6,541.1 L155.1,539.6 L155.5,538.2 L155.9,536.7 L156.3,535.3 L156.8,533.9 L157.2,532.4 L157.6,531.0 L158.1,529.5 L158.5,528.1 L159.0,526.7 L159.4,525.2 L159.8,523.8 L160.3,522.3 L160.7,520.9 L161.2,519.5 L161.6,518.0 L162.1,516.6 L162.5,515.2 L163.0,513.7 L163.5,512.3 L163.9,510.9 L164.4,509.4 L164.8,508.0 L165.3,506.5 L165.7,505.1 L166.2,503.7 L166.6,502.2 L167.0,500.8 L167.5,499.4 L167.9,497.9 L168.4,496.5 L168.8,495.0 L169.2,493.6 L169.6,492.1 L170.1,490.7 L170.5,489.3 L170.9,487.8 L171.3,486.4 L171.7,484.9 L172.1,483.5 L172.5,482.0 L172.9,480.6 L173.3,479.1 L173.7,480.6 L174.2,482.0 L174.6,483.5 L175.0,485.0 L175.5,486.4 L175.9,487.9 L176.3,489.3 L176.7,490.8 L177.1,492.3 L177.5,493.7 L177.8,495.2 L178.2,496.6 L178.6,498.0 L179.0,499.5 L179.3,500.9 L179.7,502.4 L180.0,503.8 L180.4,505.2 L180.7,506.7 L181.1,508.1 L181.4,509.6 L181.8,511.0 L182.1,512.4 L182.4,513.9 L182.8,515.3 L183.1,516.7 L183.4,518.2 L183.8,519.6 L184.1,521.0 L184.4,522.5 L184.7,523.9 L185.1,525.3 L185.4,526.8 L185.7,528.2 L186.0,529.6 L186.4,531.1 L186.7,532.5 L187.0,534.0 L187.3,535.4 L187.7,536.9 L188.0,538.3 L188.3,539.7 L188.7,541.2 L189.0,542.6 L189.3,544.1 L189.7,545.5 L190.0,547.0 L190.4,548.5 L190.7,549.9 L191.1,551.4 L191.5,552.9 L191.8,554.3 L192.2,555.8 L192.6,557.3 L193.0,558.8 L193.4,560.2 L193.7,561.7 L194.1,563.2 L194.5,564.7 L195.0,566.2 L195.4,567.7 L195.8,569.2 L196.2,570.7 L196.7,572.2 L197.1,573.7 L197.6,575.2 L198.1,576.7 L198.6,578.1 L199.1,579.6 L199.6,581.1 L200.2,582.5 L200.7,584.0 L201.3,585.4 L201.9,586.8 L202.6,588.2 L203.2,589.6 L203.9,591.0 L204.6,592.3 L205.3,593.6 L206.1,594.9 L206.9,596.2 L207.7,597.5 L208.5,598.7 L209.4,599.9 L210.3,601.1 L211.3,602.2 L212.3,603.3 L213.3,604.4 L214.3,605.5 L215.4,606.5 L216.5,607.5 L217.6,608.4 L218.8,609.3 L220.0,610.2 L221.2,611.0 L222.4,611.8 L223.7,612.6 L224.9,613.3 L226.2,613.9 L227.5,614.5 L228.9,615.1 L230.2,615.6 L231.6,616.1 L232.9,616.5 L234.3,616.9 L235.7,617.2 L237.1,617.4 L238.5,617.6 L239.9,617.8 L241.3,617.9 L242.7,617.9 L244.2,617.9 L245.6,617.8 L247.0,617.7 L248.4,617.5 L249.8,617.2 L251.2,616.9 L252.6,616.5 L254.1,616.1 L255.4,615.6 L256.8,615.1 L258.2,614.5 L259.6,613.9 L261.0,613.2 L262.3,612.5 L263.7,611.8 L265.1,611.1 L266.4,610.3 L267.7,609.5 L269.0,608.7 L270.4,607.9 L271.7,607.0 L273.0,606.2 L274.2,605.3 L275.5,604.4 L276.8,603.6 L278.0,602.7 L279.3,601.8 L280.5,600.8 L281.7,599.9 L282.9,599.0 L284.1,598.1 L285.3,597.1 L286.5,596.1 L287.6,595.2 L288.8,594.2 L290.0,593.2 L291.1,592.2 L292.2,591.2 L293.4,590.2 L294.5,589.2 L295.6,588.2 L296.7,587.2 L297.8,586.2 L298.9,585.1 L300.0,584.1 L301.0,583.0 L302.1,582.0 L303.2,580.9 L304.2,579.8 L305.3,578.8 L306.3,577.7 L307.3,576.6 L308.4,575.5 L309.4,574.4 L310.4,573.3 L311.4,572.2 L312.4,571.1 L313.4,570.0 L314.4,568.9 L315.4,567.8 L316.4,566.6 L317.4,565.5 L318.4,564.4 L319.3,563.2 L320.3,562.1 L321.3,561.0 L322.2,559.8 L323.2,558.7 L324.2,557.5 L325.1,556.4 L326.1,555.2 L327.0,554.1 L328.0,552.9 L328.9,551.7 L329.8,550.6 L330.8,549.4 L331.7,548.2 L332.7,547.1 L333.6,545.9 L334.5,544.7 L335.5,543.6 L336.4,542.4 L337.3,541.2 L338.2,540.0 L339.2,538.9 L340.1,537.7 L341.0,536.5 L341.9,535.3 L342.8,534.1 L343.7,532.9 L344.7,531.8 L345.6,530.6 L346.5,529.4 L347.4,528.2 L348.3,527.0 L349.2,525.8 L350.1,524.6 L351.0,523.4 L351.9,522.2 L352.8,521.0 L353.7,519.8 L354.6,518.6 L355.4,517.4 L356.3,516.2 L357.2,515.0 L358.1,513.8 L359.0,512.6 L359.9,511.3 L360.7,510.1 L361.6,508.9 L362.5,507.7 L363.4,506.5 L364.2,505.3 L365.1,504.0 L366.0,502.8 L366.8,501.6 L367.7,500.4 L368.6,499.2 L369.4,497.9 L370.3,496.7 L371.2,495.5 L372.0,494.2 L372.9,493.0 L373.7,491.8 L374.6,490.6 L375.5,489.3 L376.3,488.1 L377.2,486.9 L378.0,485.6 L378.9,484.4 L379.7,483.1 L380.6,481.9 L381.4,480.7 L382.2,479.4 L383.1,478.2 L383.9,477.0 L384.8,475.7 L385.6,474.5 L386.5,473.2 L387.3,472.0 L388.1,470.7 L389.0,469.5 L389.8,468.2 L390.6,467.0 L391.5,465.7 L392.3,464.5 L393.1,463.2 L394.0,462.0 L394.8,460.7 L395.6,459.5 L396.4,458.2 L397.3,457.0 L398.1,455.7 L398.9,454.5 L399.7,453.2 L400.6,452.0 L401.4,450.7 L402.2,449.5 L403.0,448.2 L403.9,446.9 L404.7,445.7 L405.5,444.4 L406.3,443.2 L407.1,441.9 L408.0,440.6 L408.8,439.4 L409.6,438.1 L410.4,436.9 L411.2,435.6 L412.0,434.3 L412.8,433.1 L413.7,431.8 L414.5,430.6 L415.3,429.3 L416.1,428.0 L416.9,426.8 L417.7,425.5 L418.5,424.2 L419.3,423.0 L420.2,421.7 L421.0,420.4 L421.8,419.2 L422.6,417.9 L423.4,416.6 L424.2,415.4 L425.0,414.1 L425.8,412.9 L426.6,411.6 L427.4,410.3 L428.3,409.1 L429.1,407.8 L429.9,406.5 L430.7,405.3 L431.5,404.0 L432.3,402.7 L433.1,401.5 L433.9,400.2 L434.7,398.9 L435.5,397.7 L436.3,396.4 L437.1,395.1 L437.9,393.9 L438.8,392.6 L439.6,391.3 L440.4,390.1 L441.2,388.8 L442.0,387.6 L442.8,386.3 L443.6,385.0 L444.4,383.8 L445.2,382.5 L446.0,381.2 L446.8,380.0 L447.7,378.7 L448.5,377.5 L449.3,376.2 L450.1,374.9 L450.9,373.7 L451.7,372.4 L452.5,371.1 L453.3,369.9 L454.1,368.6 L455.0,367.4 L455.8,366.1 L456.6,364.9 L457.4,363.6 L458.7,364.3 L460.1,365.0 L461.4,365.7 L462.8,366.4 L464.2,367.1 L465.5,367.8 L466.9,368.4 L468.2,369.1 L469.6,369.8 L470.9,370.4 L472.3,371.1 L473.7,371.7 L475.0,372.4 L476.4,373.0 L477.8,373.6 L479.2,374.3 L480.5,374.9 L481.9,375.5 L483.3,376.1 L484.7,376.7 L486.0,377.3 L487.4,377.9 L488.8,378.5 L490.2,379.0 L491.6,379.6 L493.0,380.2 L494.4,380.7 L495.8,381.3 L497.2,381.9 L498.5,382.4 L499.9,382.9 L501.3,383.5 L502.7,384.0 L504.1,384.5 L505.5,385.1 L506.9,385.6 L508.4,386.1 L509.8,386.6 L511.2,387.1 L512.6,387.6 L514.0,388.1 L515.4,388.6 L516.8,389.1 L518.2,389.5 L519.6,390.0 L521.1,390.5 L522.5,390.9 L523.9,391.4 L525.3,391.9 L526.7,392.3 L528.2,392.8 L529.6,393.2 L531.0,393.6 L532.4,394.1 L533.9,394.5 L535.3,394.9 L536.7,395.3 L538.2,395.7 L539.6,396.1 L541.0,396.5 L542.5,396.9 L543.9,397.3 L545.4,397.7 L546.8,398.1 L548.2,398.5 L549.7,398.9 L551.1,399.2 L552.6,399.6 L554.0,400.0 L555.5,400.3 L556.9,400.7 L558.4,401.1 L559.8,401.4 L561.3,401.7 L562.7,402.1 L564.2,402.4 L565.6,402.8 L567.1,403.1 L568.5,403.4 L570.0,403.7 L571.4,404.0 L572.9,404.4 L574.4,404.7 L575.8,405.0 L577.3,405.3 L578.7,405.6 L580.2,405.9 L581.7,406.2 L583.1,406.4 L584.6,406.7 L586.1,407.0 L587.5,407.3 L589.0,407.6 L590.5,407.8 L592.0,408.1 L593.4,408.3 L594.9,408.6 L596.4,408.9 L597.8,409.1 L599.3,409.4 L600.8,409.6 L602.3,409.8 L603.8,410.1 L605.2,410.3 L606.7,410.6 L608.2,410.8 L609.7,411.0 L611.1,411.2 L612.6,411.4 L614.1,411.7 L615.6,411.9 L617.1,412.1 L618.6,412.3 L620.1,412.5 L621.5,412.7 L623.0,412.9 L624.5,413.1 L626.0,413.3 L627.5,413.5 L629.0,413.7 L630.5,413.8 L632.0,414.0 L633.4,414.2 L634.9,414.4 L636.4,414.5 L637.9,414.7 L639.4,414.9 L640.9,415.0 L642.4,415.2 L643.9,415.4 L645.4,415.5 L646.9,415.7 L648.4,415.8 L649.9,416.0 L651.4,416.1 L652.9,416.3 L654.4,416.4 L655.9,416.5 L657.4,416.7 L658.9,416.8 L660.4,416.9 L661.9,417.1 L663.4,417.2 L664.9,417.3 L666.4,417.5 L667.9,417.6 L669.4,417.7 L670.9,417.8 L672.4,417.9 L673.9,418.0 L675.4,418.1 L676.9,418.3 L678.4,418.4 L679.9,418.5 L681.4,418.6 L682.9,418.7 L684.4,418.8 L685.9,418.9 L687.4,419.0 L688.9,419.1 L690.4,419.1 L691.9,419.2 L693.4,419.3 L694.9,419.4 L696.4,419.5 L697.9,419.6 L699.4,419.7 L700.9,419.7 L702.4,419.8 L703.9,419.9 L705.4,420.0 L706.9,420.0 L708.5,420.1 L710.0,420.2 L711.5,420.3 L713.0,420.3 L714.5,420.4 L716.0,420.5 L717.5,420.5 L719.0,420.6 L720.5,420.6 L722.0,420.7 L723.5,420.8 L725.0,420.8 L726.5,420.9 L728.0,420.9 L729.5,421.0 L731.0,421.0 L732.5,421.1 L734.0,421.1 L735.6,421.2 L737.1,421.2 L738.6,421.3 L740.1,421.3 L741.6,421.4 L743.1,421.4 L744.6,421.5 L746.1,421.5 L747.6,421.5 L749.1,421.6 L750.6,421.6 L752.1,421.6 L753.6,421.7 L755.1,421.7 L756.6,421.7 L758.1,421.8 L759.6,421.8 L761.1,421.8 L762.6,421.9 L764.1,421.9 L765.6,421.9 L767.1,422.0 L768.7,422.0 L770.2,422.0 L771.7,422.0 L773.2,422.0 L774.7,422.1 L776.2,422.1 L777.7,422.1 L779.2,422.1 L780.7,422.1 L782.2,422.1 L783.7,422.2 L785.2,422.2 L786.7,422.2 L788.2,422.2 L789.7,422.2 L791.2,422.2 L792.7,422.2 L794.2,422.2 L795.7,422.2 L797.2,422.2 L798.7,422.2 L800.2,422.3 L801.7,422.3 L803.2,422.3 L804.7,422.3 L806.2,422.3 L807.8,422.3 L809.3,422.3 L810.8,422.3 L812.3,422.2 L813.8,422.2 L815.3,422.2 L816.8,422.2 L818.3,422.2 L819.8,422.2 L821.3,422.2 L822.8,422.2 L824.3,422.2 L825.8,422.2 L827.3,422.2 L828.8,422.2 L830.3,422.1 L831.8,422.1 L833.3,422.1 L834.8,422.1 L836.3,422.1 L837.8,422.1 L839.3,422.0 L840.8,422.0 L842.3,422.0 L843.8,422.0 L845.3,422.0 L846.8,421.9 L848.3,421.9 L849.8,421.9 L851.3,421.9 L852.8,421.8 L854.3,421.8 L855.8,421.8 L857.4,421.8 L858.9,421.7 L860.4,421.7 L861.9,421.7 L863.4,421.6 L864.9,421.6 L866.4,421.6 L867.9,421.5 L869.4,421.5 L870.9,421.5 L872.4,421.4 L873.9,421.4 L875.4,421.4 L876.9,421.3 L878.4,421.3 L879.9,421.3 L881.4,421.2 L882.9,421.2 L884.4,421.2 L885.9,421.1 L887.4,421.1 L888.9,421.0 L890.4,421.0 L891.9,420.9 L893.4,420.9 L894.9,420.9 L896.4,420.8 L897.9,420.8 L899.4,420.7 L900.9,420.7 L902.4,420.6 L903.9,420.6 L905.4,420.5 L906.9,420.5 L908.4,420.5 L909.9,420.4 L911.4,420.4 L912.9,420.3 L914.4,420.3 L915.9,420.2 L917.4,420.2 L918.9,420.1 L920.4,420.1 L921.9,420.0 L923.4,419.9 L924.9,419.9 L926.4,419.8 L927.9,419.8 L929.4,419.7 L930.9,419.7 L932.4,419.6 L934.0,419.6 L935.5,419.5 L937.0,419.5 L938.5,419.4 L940.0,419.3 L941.5,419.3 L943.0,419.2 L944.5,419.2 L946.0,419.1 L947.5,419.1 L949.0,419.0 L950.5,418.9 L952.0,418.9 L953.5,418.8 L955.0,418.8 L956.5,418.7 L958.0,418.6 L959.5,418.6 L961.0,418.5 L962.5,418.5 L964.0,418.4 L965.5,418.3 L967.0,418.3 L968.5,418.2 L970.0,418.1 L971.5,418.1 L973.0,418.0 L974.5,418.0 L976.0,417.9 L977.5,417.8 L979.0,417.8 L980.5,417.7 L982.0,417.6 L983.5,417.6 L985.0,417.5 L986.5,417.4 L988.0,417.4 L989.5,417.3 L991.0,417.2 L992.5,417.2 L994.0,417.1 L995.5,417.0 L997.0,417.0 L998.5,416.9 L1000.0,416.8 L1001.5,416.8 L1003.0,416.7 L1004.5,416.6 L1006.0,416.6 L1007.5,416.5 L1009.0,416.4 L1010.5,416.4 L1012.0,416.3 L1013.5,416.2 L1015.0,416.2 L1016.5,416.1 L1018.0,416.0 L1019.5,416.0 L1021.0,415.9 L1022.5,415.8 L1024.0,415.8 L1025.5,415.7 L1027.0,415.6 L1028.5,415.6 L1030.0,415.5 L1031.5,415.4 L1033.0,415.4 L1034.5,415.3 L1036.0,415.2 L1037.5,415.2 L1039.0,415.1 L1040.5,415.0 L1042.0,415.0 L1043.5,414.9 L1045.0,414.8 L1046.5,414.8 L1048.0,414.7 L1049.5,414.6 L1051.0,414.6 L1052.5,414.5 L1054.0,414.4 L1055.5,414.4 L1057.0,414.3 L1058.5,414.2 L1060.0,414.2 L1061.5,414.1 L1063.0,414.0 L1064.5,414.0 L1066.0,413.9 L1067.5,413.8 L1069.0,413.8 L1070.5,413.7 L1072.0,413.6 L1073.5,413.6 L1075.0,413.5 L1076.5,413.4 L1078.0,413.4 L1079.5,413.3 L1081.0,413.2 L1082.5,413.2 L1084.0,413.1 L1085.5,413.0 L1087.0,413.0 L1088.5,412.9 L1090.0,412.9 L1091.5,412.8 L1093.0,412.7 L1094.5,412.7 L1096.0,412.6 L1097.5,412.5 L1099.0,412.5 L1100.5,412.4 L1102.0,412.4 L1103.5,412.3 L1105.0,412.2 L1106.5,412.2 L1108.0,412.1 L1109.5,412.1 L1111.0,412.0 L1112.5,411.9 L1114.0,411.9 L1115.5,411.8 L1117.0,411.8 L1118.5,411.7 L1120.0,411.7 L1121.5,411.6 L1123.0,411.5 L1124.5,411.5 L1126.0,411.4 L1127.5,411.4 L1129.0,411.3 L1130.5,411.3 L1132.0,411.2 L1133.5,411.2 L1135.0,411.1 L1136.5,411.0 L1138.0,411.0 L1139.5,410.9 L1141.0,410.9 L1142.5,410.8 L1144.0,410.8 L1145.5,410.7 L1147.0,410.7 L1148.5,410.6 L1150.0,410.6 L1151.5,410.5 L1153.0,410.5 L1154.5,410.5 L1156.0,410.4 L1157.5,410.4 L1159.0,410.3 L1160.5,410.3 L1162.0,410.2 L1163.5,410.2 L1165.0,410.1 L1166.5,410.1 L1168.0,410.0 L1169.5,410.0 L1171.0,410.0 L1172.5,409.9 L1174.0,409.9 L1175.5,409.8 L1177.0,409.8 L1178.5,409.8 L1180.0,409.7 L1181.5,409.7 L1183.0,409.7 L1184.5,409.6 L1186.0,409.6 L1187.5,409.5 L1189.0,409.5 L1190.5,409.5 L1192.0,409.4 L1193.5,409.4 L1195.0,409.4 L1196.5,409.4 L1198.0,409.3 L1199.5,409.3 L1201.0,409.3 L1202.5,409.2 L1204.0,409.2 L1205.5,409.2 L1207.0,409.2 L1208.5,409.1 L1210.0,409.1 L1211.5,409.1 L1213.0,409.1 L1214.5,409.0 L1216.0,409.0 L1217.5,409.0 L1219.0,409.0 L1220.5,409.0 L1222.0,408.9 L1223.5,408.9 L1225.0,408.9" fill="none" stroke="#808040" stroke-width="1.5" stroke-linejoin="round" stroke-linecap="butt"/>
<path d="M136.7,693.5 L136.8,692.0 L136.9,690.5 L137.0,689.0 L137.1,687.5 L137.3,686.0 L137.4,684.5 L137.5,683.0 L137.6,681.5 L137.7,680.0 L137.9,678.5 L138.0,677.0 L138.1,675.5 L138.2,674.0 L138.4,672.5 L138.5,671.0 L138.6,669.5 L138.8,668.0 L138.9,666.5 L139.0,665.1 L139.2,663.6 L139.3,662.1 L139.5,660.6 L139.6,659.1 L139.7,657.6 L139.9,656.1 L140.0,654.6 L140.2,653.1 L140.3,651.6 L140.5,650.1 L140.6,648.6 L140.8,647.1 L140.9,645.6 L141.1,644.1 L141.2,642.6 L141.4,641.1 L141.5,639.6 L141.7,638.1 L141.8,636.6 L142.0,635.2 L142.2,633.7 L142.3,632.2 L142.5,630.7 L142.6,629.2 L142.8,627.7 L142.9,626.2 L143.1,624.7 L143.3,623.2 L143.4,621.7 L143.6,620.2 L143.7,618.7 L143.9,617.2 L144.0,615.7 L144.2,614.2 L144.4,612.7 L144.5,611.2 L144.7,609.7 L144.8,608.3 L145.0,606.8 L145.2,605.3 L145.3,603.8 L145.5,602.3 L145.6,600.8 L145.8,599.3 L145.9,597.8 L146.1,596.3 L146.2,594.8 L146.4,593.3 L146.6,591.8 L146.7,590.3 L146.9,588.8 L147.0,587.3 L147.2,585.8 L147.3,584.3 L147.5,582.8 L147.6,581.3 L147.7,579.8 L147.9,578.4 L148.0,576.9 L148.2,575.4 L148.3,573.9 L148.5,572.4 L148.6,570.9 L148.7,569.4 L148.9,567.9 L149.0,566.4 L149.2,564.9 L149.3,563.4 L149.4,561.9 L149.5,560.4 L149.7,558.9 L149.8,557.4 L149.9,555.9 L150.1,554.4 L150.2,552.9 L150.3,551.4 L150.4,549.9 L150.5,548.4 L150.7,546.9 L150.8,545.4 L150.9,543.9 L151.0,542.4 L151.1,540.9 L151.2,539.4 L151.3,537.9 L151.4,536.4 L151.5,534.9 L151.6,533.4 L151.7,531.9 L151.8,530.4 L151.9,528.9 L152.0,527.4 L152.0,525.9 L152.1,524.4 L152.2,522.9 L152.3,521.4 L152.4,519.9 L152.4,518.4 L152.5,516.9 L152.6,515.4 L152.6,513.9 L152.7,512.4 L153.2,510.9 L153.7,509.5 L154.2,508.0 L154.7,506.6 L155.2,505.1 L155.8,503.7 L156.3,502.2 L156.9,500.8 L157.4,499.4 L158.0,497.9 L158.5,496.5 L159.1,495.0 L159.7,493.6 L160.2,492.2 L160.8,490.8 L161.4,489.3 L162.0,487.9 L162.5,486.5 L163.1,485.0 L163.7,483.6 L164.3,482.2 L164.9,480.8 L165.5,479.3 L166.0,477.9 L166.6,476.5 L167.2,475.1 L167.8,473.7 L168.4,472.2 L168.9,470.8 L169.5,469.4 L170.1,468.0 L170.6,466.5 L171.2,465.1 L171.5,466.6 L171.8,468.0 L172.2,469.5 L172.5,471.0 L172.8,472.5 L173.1,473.9 L173.4,475.4 L173.7,476.9 L174.0,478.3 L174.3,479.8 L174.6,481.3 L174.9,482.7 L175.2,484.2 L175.5,485.7 L175.8,487.2 L176.1,488.6 L176.4,490.1 L176.7,491.6 L177.0,493.0 L177.3,494.5 L177.5,496.0 L177.8,497.4 L178.1,498.9 L178.4,500.4 L178.7,501.8 L179.0,503.3 L179.3,504.8 L179.6,506.2 L179.8,507.7 L180.1,509.2 L180.4,510.6 L180.7,512.1 L181.0,513.6 L181.3,515.0 L181.6,516.5 L181.9,518.0 L182.1,519.4 L182.4,520.9 L182.7,522.4 L183.0,523.8 L183.3,525.3 L183.6,526.8 L183.9,528.2 L184.2,529.7 L184.5,531.2 L184.8,532.6 L185.1,534.1 L185.4,535.6 L185.7,537.0 L186.0,538.5 L186.3,540.0 L186.6,541.5 L186.9,542.9 L187.3,544.4 L187.6,545.9 L187.9,547.3 L188.2,548.8 L188.5,550.3 L188.9,551.7 L189.2,553.2 L189.5,554.7 L189.9,556.1 L190.2,557.6 L190.6,559.1 L190.9,560.5 L191.3,562.0 L191.7,563.5 L192.0,564.9 L192.4,566.4 L192.8,567.8 L193.2,569.3 L193.6,570.7 L194.1,572.2 L194.5,573.6 L195.0,575.1 L195.4,576.5 L195.9,577.9 L196.4,579.3 L196.9,580.7 L197.4,582.2 L198.0,583.6 L198.5,585.0 L199.1,586.4 L199.7,587.7 L200.3,589.1 L201.0,590.5 L201.6,591.8 L202.3,593.2 L203.0,594.5 L203.8,595.9 L204.5,597.2 L205.3,598.5 L206.1,599.8 L206.9,601.1 L207.8,602.4 L208.6,603.7 L209.6,605.0 L210.5,606.2 L211.5,607.5 L212.4,608.7 L213.4,609.9 L214.5,611.0 L215.5,612.2 L216.6,613.3 L217.7,614.3 L218.8,615.4 L220.0,616.4 L221.1,617.3 L222.3,618.2 L223.5,619.1 L224.7,619.9 L226.0,620.6 L227.2,621.3 L228.5,622.0 L229.7,622.5 L231.0,623.1 L232.3,623.5 L233.7,623.9 L235.0,624.2 L236.3,624.4 L237.7,624.6 L239.0,624.6 L240.4,624.7 L241.8,624.6 L243.2,624.5 L244.5,624.4 L245.9,624.2 L247.3,623.9 L248.7,623.6 L250.1,623.2 L251.5,622.8 L252.9,622.3 L254.3,621.8 L255.7,621.3 L257.1,620.7 L258.5,620.1 L259.9,619.4 L261.3,618.8 L262.7,618.1 L264.1,617.3 L265.5,616.6 L266.8,615.8 L268.2,615.0 L269.5,614.2 L270.9,613.3 L272.2,612.5 L273.5,611.6 L274.8,610.7 L276.1,609.9 L277.4,609.0 L278.6,608.1 L279.9,607.2 L281.1,606.2 L282.4,605.3 L283.6,604.4 L284.8,603.4 L286.0,602.5 L287.2,601.5 L288.4,600.6 L289.5,599.6 L290.7,598.6 L291.8,597.6 L293.0,596.6 L294.1,595.6 L295.2,594.6 L296.3,593.6 L297.4,592.6 L298.5,591.6 L299.6,590.5 L300.7,589.5 L301.8,588.4 L302.8,587.4 L303.9,586.3 L304.9,585.3 L306.0,584.2 L307.0,583.1 L308.1,582.0 L309.1,580.9 L310.1,579.9 L311.1,578.8 L312.1,577.7 L313.1,576.6 L314.1,575.4 L315.1,574.3 L316.1,573.2 L317.1,572.1 L318.0,571.0 L319.0,569.8 L320.0,568.7 L320.9,567.6 L321.9,566.4 L322.8,565.3 L323.8,564.1 L324.7,563.0 L325.7,561.9 L326.6,560.7 L327.6,559.5 L328.5,558.4 L329.4,557.2 L330.4,556.1 L331.3,554.9 L332.2,553.7 L333.2,552.6 L334.1,551.4 L335.0,550.2 L336.0,549.1 L336.9,547.9 L337.8,546.7 L338.7,545.6 L339.6,544.4 L340.6,543.2 L341.5,542.0 L342.4,540.8 L343.3,539.7 L344.2,538.5 L345.1,537.3 L346.0,536.1 L346.9,534.9 L347.8,533.7 L348.7,532.5 L349.6,531.4 L350.6,530.2 L351.5,529.0 L352.4,527.8 L353.2,526.6 L354.1,525.4 L355.0,524.2 L355.9,523.0 L356.8,521.8 L357.7,520.6 L358.6,519.4 L359.5,518.2 L360.4,517.0 L361.3,515.8 L362.2,514.6 L363.0,513.3 L363.9,512.1 L364.8,510.9 L365.7,509.7 L366.6,508.5 L367.4,507.3 L368.3,506.1 L369.2,504.8 L370.1,503.6 L370.9,502.4 L371.8,501.2 L372.7,500.0 L373.6,498.7 L374.4,497.5 L375.3,496.3 L376.2,495.1 L377.0,493.8 L377.9,492.6 L378.7,491.4 L379.6,490.1 L380.5,488.9 L381.3,487.7 L382.2,486.5 L383.0,485.2 L383.9,484.0 L384.7,482.7 L385.6,481.5 L386.5,480.3 L387.3,479.0 L388.2,477.8 L389.0,476.6 L389.9,475.3 L390.7,474.1 L391.6,472.8 L392.4,471.6 L393.2,470.3 L394.1,469.1 L394.9,467.9 L395.8,466.6 L396.6,465.4 L397.4,464.1 L398.3,462.9 L399.1,461.6 L400.0,460.4 L400.8,459.1 L401.6,457.9 L402.5,456.6 L403.3,455.3 L404.1,454.1 L405.0,452.8 L405.8,451.6 L406.6,450.3 L407.5,449.1 L408.3,447.8 L409.1,446.6 L409.9,445.3 L410.8,444.0 L411.6,442.8 L412.4,441.5 L413.2,440.3 L414.1,439.0 L414.9,437.7 L415.7,436.5 L416.5,435.2 L417.3,433.9 L418.2,432.7 L419.0,431.4 L419.8,430.2 L420.6,428.9 L421.4,427.6 L422.2,426.4 L423.1,425.1 L423.9,423.8 L424.7,422.6 L425.5,421.3 L426.3,420.0 L427.1,418.7 L427.9,417.5 L428.7,416.2 L429.5,414.9 L430.4,413.7 L431.2,412.4 L432.0,411.1 L432.8,409.9 L433.6,408.6 L434.4,407.3 L435.2,406.0 L436.0,404.8 L436.8,403.5 L437.6,402.2 L438.4,400.9 L439.2,399.7 L440.0,398.4 L440.8,397.1 L441.6,395.9 L442.4,394.6 L443.2,393.3 L444.0,392.0 L444.8,390.8 L445.6,389.5 L446.4,388.2 L447.2,386.9 L448.0,385.7 L448.8,384.4 L449.6,383.1 L450.4,381.8 L451.2,380.6 L452.0,379.3 L452.7,378.0 L453.5,376.7 L454.3,375.4 L455.1,374.2 L455.9,372.9 L456.7,371.6 L457.5,370.3 L458.3,369.1 L459.1,367.8 L459.9,366.5 L460.7,365.2 L461.4,364.0 L462.2,362.7 L463.0,361.4 L463.8,360.1 L464.6,358.9 L465.4,357.6 L466.2,356.3 L467.0,355.0 L467.7,353.8 L468.5,352.5 L469.3,351.2 L470.1,349.9 L470.9,348.7 L471.7,347.4 L472.5,346.1 L473.2,344.8 L474.0,343.6 L474.8,342.3 L475.6,341.0 L476.4,339.8 L477.2,338.5 L478.0,337.2 L478.7,335.9 L479.5,334.7 L480.3,333.4 L481.7,333.9 L483.1,334.5 L484.6,335.0 L486.0,335.5 L487.4,336.0 L488.8,336.6 L490.2,337.1 L491.7,337.6 L493.1,338.1 L494.5,338.6 L495.9,339.1 L497.4,339.6 L498.8,340.0 L500.2,340.5 L501.6,341.0 L503.1,341.5 L504.5,341.9 L505.9,342.4 L507.4,342.9 L508.8,343.3 L510.2,343.8 L511.7,344.2 L513.1,344.7 L514.5,345.1 L516.0,345.6 L517.4,346.0 L518.8,346.4 L520.3,346.9 L521.7,347.3 L523.2,347.7 L524.6,348.1 L526.0,348.5 L527.5,349.0 L528.9,349.4 L530.4,349.8 L531.8,350.2 L533.3,350.6 L534.7,350.9 L536.2,351.3 L537.6,351.7 L539.1,352.1 L540.5,352.5 L541.9,352.9 L543.4,353.2 L544.9,353.6 L546.3,354.0 L547.8,354.3 L549.2,354.7 L550.7,355.0 L552.1,355.4 L553.6,355.7 L555.0,356.1 L556.5,356.4 L557.9,356.7 L559.4,357.1 L560.9,357.4 L562.3,357.7 L563.8,358.0 L565.2,358.4 L566.7,358.7 L568.2,359.0 L569.6,359.3 L571.1,359.6 L572.5,359.9 L574.0,360.2 L575.5,360.5 L576.9,360.8 L578.4,361.1 L579.9,361.4 L581.3,361.6 L582.8,361.9 L584.3,362.2 L585.7,362.5 L587.2,362.7 L588.7,363.0 L590.2,363.3 L591.6,363.5 L593.1,363.8 L594.6,364.1 L596.0,364.3 L597.5,364.6 L599.0,364.8 L600.5,365.0 L601.9,365.3 L603.4,365.5 L604.9,365.8 L606.4,366.0 L607.8,366.2 L609.3,366.4 L610.8,366.7 L612.3,366.9 L613.7,367.1 L615.2,367.3 L616.7,367.5 L618.2,367.7 L619.7,368.0 L621.1,368.2 L622.6,368.4 L624.1,368.6 L625.6,368.8 L627.1,368.9 L628.6,369.1 L630.0,369.3 L631.5,369.5 L633.0,369.7 L634.5,369.9 L636.0,370.0 L637.5,370.2 L638.9,370.4 L640.4,370.6 L641.9,370.7 L643.4,370.9 L644.9,371.1 L646.4,371.2 L647.9,371.4 L649.4,371.5 L650.8,371.7 L652.3,371.8 L653.8,372.0 L655.3,372.1 L656.8,372.3 L658.3,372.4 L659.8,372.5 L661.3,372.7 L662.8,372.8 L664.3,372.9 L665.7,373.1 L667.2,373.2 L668.7,373.3 L670.2,373.4 L671.7,373.6 L673.2,373.7 L674.7,373.8 L676.2,373.9 L677.7,374.0 L679.2,374.1 L680.7,374.2 L682.2,374.3 L683.7,374.4 L685.2,374.5 L686.7,374.6 L688.2,374.7 L689.7,374.8 L691.1,374.9 L692.6,375.0 L694.1,375.1 L695.6,375.2 L697.1,375.3 L698.6,375.4 L700.1,375.4 L701.6,375.5 L703.1,375.6 L704.6,375.7 L706.1,375.7 L707.6,375.8 L709.1,375.9 L710.6,375.9 L712.1,376.0 L713.6,376.1 L715.1,376.1 L716.6,376.2 L718.1,376.3 L719.6,376.3 L721.1,376.4 L722.6,376.4 L724.1,376.5 L725.6,376.5 L727.1,376.6 L728.6,376.6 L730.1,376.7 L731.6,376.7 L733.1,376.7 L734.6,376.8 L736.1,376.8 L737.6,376.9 L739.1,376.9 L740.6,376.9 L742.1,377.0 L743.6,377.0 L745.1,377.0 L746.6,377.0 L748.1,377.1 L749.6,377.1 L751.1,377.1 L752.6,377.1 L754.1,377.2 L755.6,377.2 L757.1,377.2 L758.6,377.2 L760.1,377.2 L761.6,377.2 L763.2,377.3 L764.7,377.3 L766.2,377.3 L767.7,377.3 L769.2,377.3 L770.7,377.3 L772.2,377.3 L773.7,377.3 L775.2,377.3 L776.7,377.3 L778.2,377.3 L779.7,377.3 L781.2,377.3 L782.7,377.3 L784.2,377.3 L785.7,377.3 L787.2,377.3 L788.7,377.3 L790.2,377.3 L791.7,377.3 L793.2,377.2 L794.7,377.2 L796.2,377.2 L797.7,377.2 L799.2,377.2 L800.7,377.2 L802.2,377.1 L803.7,377.1 L805.2,377.1 L806.7,377.1 L808.2,377.1 L809.7,377.0 L811.2,377.0 L812.7,377.0 L814.2,377.0 L815.7,376.9 L817.2,376.9 L818.7,376.9 L820.2,376.8 L821.7,376.8 L823.2,376.8 L824.7,376.7 L826.2,376.7 L827.7,376.7 L829.2,376.6 L830.7,376.6 L832.2,376.6 L833.7,376.5 L835.2,376.5 L836.7,376.4 L838.2,376.4 L839.7,376.4 L841.2,376.3 L842.7,376.3 L844.2,376.2 L845.7,376.2 L847.2,376.1 L848.7,376.1 L850.3,376.0 L851.8,376.0 L853.3,375.9 L854.8,375.9 L856.3,375.8 L857.8,375.8 L859.3,375.7 L860.8,375.7 L862.3,375.6 L863.8,375.6 L865.3,375.5 L866.8,375.5 L868.3,375.4 L869.8,375.3 L871.3,375.3 L872.8,375.2 L874.3,375.2 L875.8,375.1 L877.3,375.0 L878.8,375.0 L880.3,374.9 L881.8,374.8 L883.3,374.8 L884.8,374.7 L886.3,374.6 L887.8,374.6 L889.3,374.5 L890.8,374.4 L892.3,374.4 L893.8,374.3 L895.3,374.2 L896.8,374.2 L898.3,374.1 L899.8,374.0 L901.3,374.0 L902.8,373.9 L904.3,373.8 L905.8,373.7 L907.3,373.7 L908.8,373.6 L910.3,373.5 L911.8,373.4 L913.3,373.4 L914.8,373.3 L916.3,373.2 L917.8,373.1 L919.3,373.1 L920.8,373.0 L922.3,372.9 L923.8,372.8 L925.3,372.7 L926.8,372.7 L928.3,372.6 L929.8,372.5 L931.3,372.4 L932.8,372.3 L934.3,372.3 L935.8,372.2 L937.3,372.1 L938.8,372.0 L940.3,371.9 L941.8,371.8 L943.3,371.8 L944.8,371.7 L946.3,371.6 L947.8,371.5 L949.3,371.4 L950.8,371.3 L952.3,371.2 L953.8,371.2 L955.3,371.1 L956.8,371.0 L958.3,370.9 L959.8,370.8 L961.3,370.7 L962.8,370.6 L964.3,370.5 L965.8,370.5 L967.3,370.4 L968.8,370.3 L970.3,370.2 L971.8,370.1 L973.3,370.0 L974.8,369.9 L976.3,369.8 L977.8,369.7 L979.3,369.7 L980.8,369.6 L982.3,369.5 L983.8,369.4 L985.3,369.3 L986.8,369.2 L988.3,369.1 L989.8,369.0 L991.3,368.9 L992.8,368.8 L994.3,368.8 L995.8,368.7 L997.3,368.6 L998.8,368.5 L1000.3,368.4 L1001.8,368.3 L1003.3,368.2 L1004.8,368.1 L1006.3,368.0 L1007.8,367.9 L1009.3,367.9 L1010.8,367.8 L1012.3,367.7 L1013.8,367.6 L1015.3,367.5 L1016.8,367.4 L1018.3,367.3 L1019.8,367.2 L1021.3,367.1 L1022.8,367.0 L1024.3,366.9 L1025.8,366.9 L1027.3,366.8 L1028.8,366.7 L1030.3,366.6 L1031.8,366.5 L1033.3,366.4 L1034.8,366.3 L1036.3,366.2 L1037.8,366.1 L1039.3,366.1 L1040.8,366.0 L1042.3,365.9 L1043.8,365.8 L1045.3,365.7 L1046.8,365.6 L1048.3,365.5 L1049.8,365.4 L1051.3,365.4 L1052.8,365.3 L1054.3,365.2 L1055.8,365.1 L1057.3,365.0 L1058.8,364.9 L1060.3,364.8 L1061.8,364.8 L1063.3,364.7 L1064.8,364.6 L1066.3,364.5 L1067.8,364.4 L1069.3,364.3 L1070.8,364.3 L1072.3,364.2 L1073.8,364.1 L1075.3,364.0 L1076.8,363.9 L1078.3,363.8 L1079.8,363.8 L1081.3,363.7 L1082.8,363.6 L1084.3,363.5 L1085.8,363.4 L1087.3,363.4 L1088.8,363.3 L1090.3,363.2 L1091.8,363.1 L1093.3,363.1 L1094.8,363.0 L1096.3,362.9 L1097.8,362.8 L1099.3,362.8 L1100.8,362.7 L1102.2,362.6 L1103.7,362.5 L1105.2,362.5 L1106.7,362.4 L1108.2,362.3 L1109.7,362.3 L1111.2,362.2 L1112.7,362.1 L1114.2,362.0 L1115.7,362.0 L1117.2,361.9 L1118.7,361.8 L1120.2,361.8 L1121.7,361.7 L1123.2,361.6 L1124.7,361.6 L1126.2,361.5 L1127.7,361.4 L1129.2,361.4 L1130.7,361.3 L1132.2,361.3 L1133.7,361.2 L1135.2,361.1 L1136.7,361.1 L1138.2,361.0 L1139.7,361.0 L1141.2,360.9 L1142.7,360.9 L1144.2,360.8 L1145.7,360.7 L1147.2,360.7 L1148.7,360.6 L1150.2,360.6 L1151.7,360.5 L1153.2,360.5 L1154.7,360.4 L1156.2,360.4 L1157.7,360.3 L1159.2,360.3 L1160.7,360.2 L1162.2,360.2 L1163.6,360.1 L1165.1,360.1 L1166.6,360.1 L1168.1,360.0 L1169.6,360.0 L1171.1,359.9 L1172.6,359.9 L1174.1,359.8 L1175.6,359.8 L1177.1,359.8 L1178.6,359.7 L1180.1,359.7 L1181.6,359.7 L1183.1,359.6 L1184.6,359.6 L1186.1,359.6 L1187.6,359.5 L1189.1,359.5 L1190.6,359.5 L1192.1,359.4 L1193.6,359.4 L1195.1,359.4 L1196.6,359.4 L1198.1,359.3 L1199.6,359.3 L1201.1,359.3 L1202.6,359.3 L1204.1,359.3 L1205.6,359.2 L1207.0,359.2 L1208.5,359.2 L1210.0,359.2 L1211.5,359.2 L1213.0,359.2 L1214.5,359.2 L1216.0,359.1 L1217.5,359.1 L1219.0,359.1 L1220.5,359.1 L1222.0,359.1 L1223.5,359.1 L1225.0,359.1" fill="none" stroke="#0000ff" stroke-width="1.5" stroke-linejoin="round" stroke-linecap="butt"/>
<rect x="61" y="693.0" width="1164" height="2.6" fill="#000"/>
<rect x="61" y="695.6" width="1164" height="2.0" fill="#0000ff"/>
<rect x="923.6" y="48" width="236.6" height="157.3" fill="#fff"/>
<rect x="1160" y="48" width="65" height="21.5" fill="#fff"/>
<line x1="926.5" y1="61.5" x2="970" y2="61.5" stroke="#ff0000" stroke-width="2.6"/>
<text x="973.5" y="65.2" class="lg" textLength="141.7" lengthAdjust="spacingAndGlyphs">32w-4878-01-115lit</text>
<line x1="926.5" y1="84.0" x2="970" y2="84.0" stroke="#000000" stroke-width="2.6"/>
<text x="973.5" y="87.6" class="lg" textLength="117.5" lengthAdjust="spacingAndGlyphs">AE TD15H-190lit</text>
<line x1="926.5" y1="106.5" x2="970" y2="106.5" stroke="#ff8040" stroke-width="2.6"/>
<text x="973.5" y="109.9" class="lg" textLength="138.4" lengthAdjust="spacingAndGlyphs">30W-4558T00-85lit</text>
<line x1="926.5" y1="129.0" x2="970" y2="129.0" stroke="#ff00ff" stroke-width="2.6"/>
<text x="973.5" y="132.2" class="lg" textLength="126.5" lengthAdjust="spacingAndGlyphs">BMS 12S305-95lit</text>
<line x1="926.5" y1="151.5" x2="970" y2="151.5" stroke="#00ffff" stroke-width="2.6"/>
<text x="973.5" y="154.6" class="lg" textLength="173.8" lengthAdjust="spacingAndGlyphs">XM001-04_L26ROY-60lit</text>
<line x1="926.5" y1="174.0" x2="970" y2="174.0" stroke="#808040" stroke-width="2.6"/>
<text x="978.5" y="176.9" class="lg" textLength="106.1" lengthAdjust="spacingAndGlyphs">WO24P-8-75lit</text>
<line x1="926.5" y1="196.5" x2="970" y2="196.5" stroke="#0000ff" stroke-width="2.6"/>
<text x="978.5" y="199.3" class="lg" textLength="148.8" lengthAdjust="spacingAndGlyphs">26W-4534G00-110lit</text>
<text x="1163" y="66.3" class="basta" textLength="60" lengthAdjust="spacing">Basta!</text>
<rect x="53" y="46.4" width="1172" height="1.6" fill="#1a1a1a"/>
<rect x="60.9" y="46.4" width="1.6" height="649" fill="#1a1a1a"/>
<line x1="53" y1="687.2" x2="61.5" y2="687.2" stroke="#111" stroke-width="1.6"/>
<text transform="translate(47,693.8) scale(0.93,1)" class="ax" text-anchor="end">98</text>
<line x1="53" y1="663.7" x2="61.5" y2="663.7" stroke="#111" stroke-width="1.6"/>
<text transform="translate(47,670.3) scale(0.93,1)" class="ax" text-anchor="end">99</text>
<line x1="53" y1="640.3" x2="61.5" y2="640.3" stroke="#111" stroke-width="1.6"/>
<text transform="translate(47,646.9) scale(0.93,1)" class="ax" text-anchor="end">100</text>
<line x1="53" y1="616.9" x2="61.5" y2="616.9" stroke="#111" stroke-width="1.6"/>
<text transform="translate(47,623.5) scale(0.93,1)" class="ax" text-anchor="end">101</text>
<line x1="53" y1="593.5" x2="61.5" y2="593.5" stroke="#111" stroke-width="1.6"/>
<text transform="translate(47,600.1) scale(0.93,1)" class="ax" text-anchor="end">102</text>
<line x1="53" y1="570.0" x2="61.5" y2="570.0" stroke="#111" stroke-width="1.6"/>
<text transform="translate(47,576.6) scale(0.93,1)" class="ax" text-anchor="end">103</text>
<line x1="53" y1="546.6" x2="61.5" y2="546.6" stroke="#111" stroke-width="1.6"/>
<text transform="translate(47,553.2) scale(0.93,1)" class="ax" text-anchor="end">104</text>
<line x1="53" y1="523.2" x2="61.5" y2="523.2" stroke="#111" stroke-width="1.6"/>
<text transform="translate(47,529.8) scale(0.93,1)" class="ax" text-anchor="end">105</text>
<line x1="53" y1="499.7" x2="61.5" y2="499.7" stroke="#111" stroke-width="1.6"/>
<text transform="translate(47,506.3) scale(0.93,1)" class="ax" text-anchor="end">106</text>
<line x1="53" y1="476.3" x2="61.5" y2="476.3" stroke="#111" stroke-width="1.6"/>
<text transform="translate(47,482.9) scale(0.93,1)" class="ax" text-anchor="end">107</text>
<line x1="53" y1="452.9" x2="61.5" y2="452.9" stroke="#111" stroke-width="1.6"/>
<text transform="translate(47,459.5) scale(0.93,1)" class="ax" text-anchor="end">108</text>
<line x1="53" y1="429.5" x2="61.5" y2="429.5" stroke="#111" stroke-width="1.6"/>
<text transform="translate(47,436.1) scale(0.93,1)" class="ax" text-anchor="end">109</text>
<line x1="53" y1="406.0" x2="61.5" y2="406.0" stroke="#111" stroke-width="1.6"/>
<text transform="translate(47,412.6) scale(0.93,1)" class="ax" text-anchor="end">110</text>
<line x1="53" y1="382.6" x2="61.5" y2="382.6" stroke="#111" stroke-width="1.6"/>
<text transform="translate(47,389.2) scale(0.93,1)" class="ax" text-anchor="end">111</text>
<line x1="53" y1="359.2" x2="61.5" y2="359.2" stroke="#111" stroke-width="1.6"/>
<text transform="translate(47,365.8) scale(0.93,1)" class="ax" text-anchor="end">112</text>
<line x1="53" y1="335.8" x2="61.5" y2="335.8" stroke="#111" stroke-width="1.6"/>
<text transform="translate(47,342.4) scale(0.93,1)" class="ax" text-anchor="end">113</text>
<line x1="53" y1="312.3" x2="61.5" y2="312.3" stroke="#111" stroke-width="1.6"/>
<text transform="translate(47,318.9) scale(0.93,1)" class="ax" text-anchor="end">114</text>
<line x1="53" y1="288.9" x2="61.5" y2="288.9" stroke="#111" stroke-width="1.6"/>
<text transform="translate(47,295.5) scale(0.93,1)" class="ax" text-anchor="end">115</text>
<line x1="53" y1="265.5" x2="61.5" y2="265.5" stroke="#111" stroke-width="1.6"/>
<text transform="translate(47,272.1) scale(0.93,1)" class="ax" text-anchor="end">116</text>
<line x1="53" y1="242.0" x2="61.5" y2="242.0" stroke="#111" stroke-width="1.6"/>
<text transform="translate(47,248.6) scale(0.93,1)" class="ax" text-anchor="end">117</text>
<line x1="53" y1="218.6" x2="61.5" y2="218.6" stroke="#111" stroke-width="1.6"/>
<text transform="translate(47,225.2) scale(0.93,1)" class="ax" text-anchor="end">118</text>
<line x1="53" y1="195.2" x2="61.5" y2="195.2" stroke="#111" stroke-width="1.6"/>
<text transform="translate(47,201.8) scale(0.93,1)" class="ax" text-anchor="end">119</text>
<line x1="53" y1="171.8" x2="61.5" y2="171.8" stroke="#111" stroke-width="1.6"/>
<text transform="translate(47,178.4) scale(0.93,1)" class="ax" text-anchor="end">120</text>
<line x1="53" y1="148.3" x2="61.5" y2="148.3" stroke="#111" stroke-width="1.6"/>
<text transform="translate(47,154.9) scale(0.93,1)" class="ax" text-anchor="end">121</text>
<line x1="53" y1="124.9" x2="61.5" y2="124.9" stroke="#111" stroke-width="1.6"/>
<text transform="translate(47,131.5) scale(0.93,1)" class="ax" text-anchor="end">122</text>
<line x1="53" y1="101.5" x2="61.5" y2="101.5" stroke="#111" stroke-width="1.6"/>
<text transform="translate(47,108.1) scale(0.93,1)" class="ax" text-anchor="end">123</text>
<line x1="53" y1="78.1" x2="61.5" y2="78.1" stroke="#111" stroke-width="1.6"/>
<text transform="translate(47,84.7) scale(0.93,1)" class="ax" text-anchor="end">124</text>
<line x1="53" y1="54.6" x2="61.5" y2="54.6" stroke="#111" stroke-width="1.6"/>
<text transform="translate(2,62.1) scale(0.93,1)" class="ax">[dB]</text>
<line x1="140.9" y1="697" x2="140.9" y2="704.6" stroke="#111" stroke-width="1.6"/>
<line x1="234.7" y1="697" x2="234.7" y2="704.6" stroke="#111" stroke-width="1.6"/>
<line x1="301.2" y1="697" x2="301.2" y2="704.6" stroke="#111" stroke-width="1.6"/>
<line x1="352.8" y1="697" x2="352.8" y2="704.6" stroke="#111" stroke-width="1.6"/>
<line x1="394.9" y1="697" x2="394.9" y2="704.6" stroke="#111" stroke-width="1.6"/>
<line x1="430.5" y1="697" x2="430.5" y2="704.6" stroke="#111" stroke-width="1.6"/>
<line x1="461.4" y1="697" x2="461.4" y2="704.6" stroke="#111" stroke-width="1.6"/>
<line x1="488.6" y1="697" x2="488.6" y2="704.6" stroke="#111" stroke-width="1.6"/>
<line x1="513.0" y1="697" x2="513.0" y2="704.6" stroke="#111" stroke-width="1.6"/>
<line x1="673.2" y1="697" x2="673.2" y2="704.6" stroke="#111" stroke-width="1.6"/>
<line x1="767.0" y1="697" x2="767.0" y2="704.6" stroke="#111" stroke-width="1.6"/>
<line x1="833.5" y1="697" x2="833.5" y2="704.6" stroke="#111" stroke-width="1.6"/>
<line x1="885.1" y1="697" x2="885.1" y2="704.6" stroke="#111" stroke-width="1.6"/>
<line x1="927.2" y1="697" x2="927.2" y2="704.6" stroke="#111" stroke-width="1.6"/>
<line x1="962.8" y1="697" x2="962.8" y2="704.6" stroke="#111" stroke-width="1.6"/>
<line x1="993.7" y1="697" x2="993.7" y2="704.6" stroke="#111" stroke-width="1.6"/>
<line x1="1020.9" y1="697" x2="1020.9" y2="704.6" stroke="#111" stroke-width="1.6"/>
<line x1="1045.3" y1="697" x2="1045.3" y2="704.6" stroke="#111" stroke-width="1.6"/>
<line x1="1205.5" y1="697" x2="1205.5" y2="704.6" stroke="#111" stroke-width="1.6"/>
<text transform="translate(140.9,720.7) scale(0.93,1)" class="ax" text-anchor="middle">20</text>
<text transform="translate(234.7,720.7) scale(0.93,1)" class="ax" text-anchor="middle">30</text>
<text transform="translate(301.2,720.7) scale(0.93,1)" class="ax" text-anchor="middle">40</text>
<text transform="translate(352.8,720.7) scale(0.93,1)" class="ax" text-anchor="middle">50</text>
<text transform="translate(394.9,720.7) scale(0.93,1)" class="ax" text-anchor="middle">60</text>
<text transform="translate(430.5,720.7) scale(0.93,1)" class="ax" text-anchor="middle">70</text>
<text transform="translate(461.4,720.7) scale(0.93,1)" class="ax" text-anchor="middle">80</text>
<text transform="translate(513.0,720.7) scale(0.93,1)" class="ax" text-anchor="middle">100</text>
<text transform="translate(673.2,720.7) scale(0.93,1)" class="ax" text-anchor="middle">200</text>
<text transform="translate(767.0,720.7) scale(0.93,1)" class="ax" text-anchor="middle">300</text>
<text transform="translate(833.5,720.7) scale(0.93,1)" class="ax" text-anchor="middle">400</text>
<text transform="translate(885.1,720.7) scale(0.93,1)" class="ax" text-anchor="middle">500</text>
<text transform="translate(927.2,720.7) scale(0.93,1)" class="ax" text-anchor="middle">600</text>
<text transform="translate(962.8,720.7) scale(0.93,1)" class="ax" text-anchor="middle">700</text>
<text transform="translate(993.7,720.7) scale(0.93,1)" class="ax" text-anchor="middle">800</text>
<text transform="translate(1045.3,720.7) scale(0.93,1)" class="ax" text-anchor="middle">1000</text>
<text transform="translate(1215.5,720.7) scale(0.93,1)" class="ax">Hz</text>
<line x1="105.4" y1="39" x2="105.4" y2="46.5" stroke="#111" stroke-width="1.6"/>
<text transform="translate(105.4,36) scale(0.93,1)" class="ax" text-anchor="middle">20</text>
<line x1="265.6" y1="39" x2="265.6" y2="46.5" stroke="#111" stroke-width="1.6"/>
<text transform="translate(265.6,36) scale(0.93,1)" class="ax" text-anchor="middle">10</text>
<line x1="290.0" y1="39" x2="290.0" y2="46.5" stroke="#111" stroke-width="1.6"/>
<text transform="translate(290.0,36) scale(0.93,1)" class="ax" text-anchor="middle">9</text>
<line x1="317.2" y1="39" x2="317.2" y2="46.5" stroke="#111" stroke-width="1.6"/>
<text transform="translate(317.2,36) scale(0.93,1)" class="ax" text-anchor="middle">8</text>
<line x1="348.1" y1="39" x2="348.1" y2="46.5" stroke="#111" stroke-width="1.6"/>
<text transform="translate(348.1,36) scale(0.93,1)" class="ax" text-anchor="middle">7</text>
<line x1="383.7" y1="39" x2="383.7" y2="46.5" stroke="#111" stroke-width="1.6"/>
<text transform="translate(383.7,36) scale(0.93,1)" class="ax" text-anchor="middle">6</text>
<line x1="425.9" y1="39" x2="425.9" y2="46.5" stroke="#111" stroke-width="1.6"/>
<text transform="translate(425.9,36) scale(0.93,1)" class="ax" text-anchor="middle">5</text>
<line x1="477.5" y1="39" x2="477.5" y2="46.5" stroke="#111" stroke-width="1.6"/>
<text transform="translate(477.5,36) scale(0.93,1)" class="ax" text-anchor="middle">4</text>
<line x1="544.0" y1="39" x2="544.0" y2="46.5" stroke="#111" stroke-width="1.6"/>
<text transform="translate(544.0,36) scale(0.93,1)" class="ax" text-anchor="middle">3</text>
<line x1="637.7" y1="39" x2="637.7" y2="46.5" stroke="#111" stroke-width="1.6"/>
<text transform="translate(637.7,36) scale(0.93,1)" class="ax" text-anchor="middle">2</text>
<line x1="797.9" y1="39" x2="797.9" y2="46.5" stroke="#111" stroke-width="1.6"/>
<text transform="translate(797.9,36) scale(0.93,1)" class="ax" text-anchor="middle">1</text>
<line x1="822.3" y1="39" x2="822.3" y2="46.5" stroke="#111" stroke-width="1.6"/>
<text transform="translate(823.6,36) scale(0.93,1)" class="ax" text-anchor="middle">0,9</text>
<line x1="849.5" y1="39" x2="849.5" y2="46.5" stroke="#111" stroke-width="1.6"/>
<text transform="translate(850.8,36) scale(0.93,1)" class="ax" text-anchor="middle">0,8</text>
<line x1="880.4" y1="39" x2="880.4" y2="46.5" stroke="#111" stroke-width="1.6"/>
<text transform="translate(881.7,36) scale(0.93,1)" class="ax" text-anchor="middle">0,7</text>
<line x1="916.0" y1="39" x2="916.0" y2="46.5" stroke="#111" stroke-width="1.6"/>
<text transform="translate(917.3,36) scale(0.93,1)" class="ax" text-anchor="middle">0,6</text>
<line x1="958.2" y1="39" x2="958.2" y2="46.5" stroke="#111" stroke-width="1.6"/>
<text transform="translate(959.5,36) scale(0.93,1)" class="ax" text-anchor="middle">0,5</text>
<line x1="1009.8" y1="39" x2="1009.8" y2="46.5" stroke="#111" stroke-width="1.6"/>
<text transform="translate(1011.1,36) scale(0.93,1)" class="ax" text-anchor="middle">0,4</text>
<line x1="1076.3" y1="39" x2="1076.3" y2="46.5" stroke="#111" stroke-width="1.6"/>
<text transform="translate(1077.6,36) scale(0.93,1)" class="ax" text-anchor="middle">0,3</text>
<line x1="1170.0" y1="39" x2="1170.0" y2="46.5" stroke="#111" stroke-width="1.6"/>
<text transform="translate(1171.3,36) scale(0.93,1)" class="ax" text-anchor="middle">0,2</text>
<text transform="translate(1212,36) scale(0.93,1)" class="ax">[m]</text>
</svg>
</body></html>
